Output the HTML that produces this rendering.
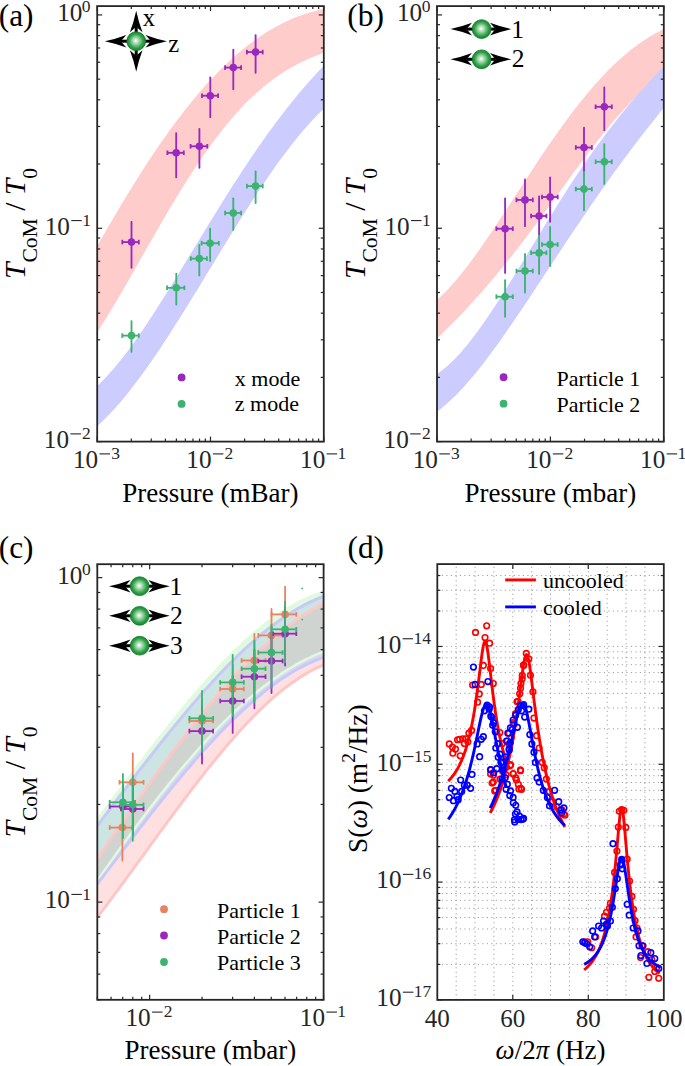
<!DOCTYPE html>
<html><head><meta charset="utf-8"><style>
html,body{margin:0;padding:0;background:#fff;width:685px;height:1066px;overflow:hidden}
svg{display:block}
</style></head><body>
<svg width="685" height="1066" viewBox="0 0 685 1066">
<defs>
<radialGradient id="sph" cx="0.5" cy="0.5" r="0.5" fx="0.47" fy="0.47">
<stop offset="0" stop-color="#ffffff"/>
<stop offset="0.35" stop-color="#9fd6a8"/>
<stop offset="0.75" stop-color="#2f9e48"/>
<stop offset="1" stop-color="#138a2e"/>
</radialGradient>
<clipPath id="clipC"><rect x="97.3" y="564.2" width="226.3" height="435.6"/></clipPath>
</defs>
<rect width="685" height="1066" fill="#fff"/>
<path d="M97.2,246.16 L100.07,241.11 L102.94,236.08 L105.81,231.08 L108.67,226.11 L111.54,221.18 L114.41,216.28 L117.28,211.41 L120.15,206.58 L123.02,201.79 L125.88,197.04 L128.75,192.33 L131.62,187.66 L134.49,183.04 L137.36,178.46 L140.23,173.93 L143.09,169.44 L145.96,165 L148.83,160.61 L151.7,156.28 L154.57,151.99 L157.44,147.76 L160.3,143.58 L163.17,139.45 L166.04,135.38 L168.91,131.37 L171.78,127.41 L174.65,123.51 L177.51,119.67 L180.38,115.89 L183.25,112.17 L186.12,108.51 L188.99,104.92 L191.86,101.38 L194.72,97.91 L197.59,94.5 L200.46,91.15 L203.33,87.87 L206.2,84.65 L209.07,81.5 L211.93,78.41 L214.8,75.39 L217.67,72.43 L220.54,69.54 L223.41,66.71 L226.28,63.96 L229.14,61.26 L232.01,58.64 L234.88,56.08 L237.75,53.59 L240.62,51.17 L243.49,48.81 L246.35,46.52 L249.22,44.3 L252.09,42.14 L254.96,40.05 L257.83,38.03 L260.7,36.07 L263.56,34.18 L266.43,32.35 L269.3,30.59 L272.17,28.9 L275.04,27.26 L277.91,25.7 L280.77,24.19 L283.64,22.75 L286.51,21.37 L289.38,20.06 L292.25,18.8 L295.12,17.61 L297.98,16.47 L300.85,15.4 L303.72,14.38 L306.59,13.42 L309.46,12.52 L312.33,11.68 L315.19,10.89 L318.06,10.15 L320.93,9.47 L323.8,8.84 L323.8,52.73 L320.93,53.79 L318.06,54.89 L315.19,56.03 L312.33,57.21 L309.46,58.44 L306.59,59.72 L303.72,61.05 L300.85,62.44 L297.98,63.89 L295.12,65.41 L292.25,66.99 L289.38,68.63 L286.51,70.35 L283.64,72.13 L280.77,73.99 L277.91,75.93 L275.04,77.94 L272.17,80.03 L269.3,82.21 L266.43,84.46 L263.56,86.8 L260.7,89.22 L257.83,91.73 L254.96,94.32 L252.09,97 L249.22,99.76 L246.35,102.62 L243.49,105.56 L240.62,108.58 L237.75,111.7 L234.88,114.9 L232.01,118.19 L229.14,121.56 L226.28,125.02 L223.41,128.57 L220.54,132.2 L217.67,135.91 L214.8,139.7 L211.93,143.58 L209.07,147.53 L206.2,151.56 L203.33,155.67 L200.46,159.85 L197.59,164.1 L194.72,168.42 L191.86,172.81 L188.99,177.26 L186.12,181.78 L183.25,186.35 L180.38,190.99 L177.51,195.67 L174.65,200.41 L171.78,205.19 L168.91,210.02 L166.04,214.89 L163.17,219.79 L160.3,224.73 L157.44,229.69 L154.57,234.68 L151.7,239.69 L148.83,244.72 L145.96,249.76 L143.09,254.81 L140.23,259.85 L137.36,264.9 L134.49,269.94 L131.62,274.96 L128.75,279.97 L125.88,284.95 L123.02,289.9 L120.15,294.82 L117.28,299.69 L114.41,304.52 L111.54,309.3 L108.67,314.01 L105.81,318.66 L102.94,323.24 L100.07,327.73 L97.2,332.14 Z" fill="#ffcccc" />
<path d="M97.2,385.91 L100.07,383.2 L102.94,380.37 L105.81,377.4 L108.67,374.31 L111.54,371.1 L114.41,367.77 L117.28,364.34 L120.15,360.81 L123.02,357.18 L125.88,353.45 L128.75,349.64 L131.62,345.74 L134.49,341.76 L137.36,337.71 L140.23,333.59 L143.09,329.4 L145.96,325.14 L148.83,320.84 L151.7,316.47 L154.57,312.06 L157.44,307.6 L160.3,303.11 L163.17,298.57 L166.04,294 L168.91,289.39 L171.78,284.77 L174.65,280.11 L177.51,275.44 L180.38,270.75 L183.25,266.05 L186.12,261.34 L188.99,256.62 L191.86,251.89 L194.72,247.17 L197.59,242.44 L200.46,237.72 L203.33,233.01 L206.2,228.31 L209.07,223.62 L211.93,218.94 L214.8,214.28 L217.67,209.64 L220.54,205.03 L223.41,200.43 L226.28,195.86 L229.14,191.32 L232.01,186.81 L234.88,182.33 L237.75,177.89 L240.62,173.48 L243.49,169.11 L246.35,164.77 L249.22,160.48 L252.09,156.22 L254.96,152.01 L257.83,147.84 L260.7,143.72 L263.56,139.64 L266.43,135.61 L269.3,131.62 L272.17,127.69 L275.04,123.8 L277.91,119.97 L280.77,116.18 L283.64,112.45 L286.51,108.77 L289.38,105.14 L292.25,101.56 L295.12,98.03 L297.98,94.56 L300.85,91.13 L303.72,87.77 L306.59,84.45 L309.46,81.18 L312.33,77.97 L315.19,74.81 L318.06,71.7 L320.93,68.64 L323.8,65.63 L323.8,108.77 L320.93,111.53 L318.06,114.37 L315.19,117.32 L312.33,120.35 L309.46,123.47 L306.59,126.68 L303.72,129.98 L300.85,133.36 L297.98,136.81 L295.12,140.35 L292.25,143.96 L289.38,147.64 L286.51,151.39 L283.64,155.22 L280.77,159.1 L277.91,163.05 L275.04,167.07 L272.17,171.14 L269.3,175.26 L266.43,179.44 L263.56,183.67 L260.7,187.95 L257.83,192.27 L254.96,196.64 L252.09,201.05 L249.22,205.5 L246.35,209.98 L243.49,214.5 L240.62,219.04 L237.75,223.62 L234.88,228.22 L232.01,232.84 L229.14,237.49 L226.28,242.15 L223.41,246.83 L220.54,251.52 L217.67,256.22 L214.8,260.93 L211.93,265.64 L209.07,270.35 L206.2,275.06 L203.33,279.77 L200.46,284.48 L197.59,289.17 L194.72,293.86 L191.86,298.52 L188.99,303.18 L186.12,307.81 L183.25,312.42 L180.38,317 L177.51,321.56 L174.65,326.08 L171.78,330.58 L168.91,335.03 L166.04,339.45 L163.17,343.82 L160.3,348.15 L157.44,352.43 L154.57,356.66 L151.7,360.84 L148.83,364.96 L145.96,369.02 L143.09,373.02 L140.23,376.95 L137.36,380.82 L134.49,384.61 L131.62,388.33 L128.75,391.98 L125.88,395.54 L123.02,399.02 L120.15,402.42 L117.28,405.72 L114.41,408.94 L111.54,412.06 L108.67,415.08 L105.81,418 L102.94,420.82 L100.07,423.53 L97.2,426.13 Z" fill="#ccccff" />
<g stroke="#9a28bf" stroke-width="1.85" fill="#9a28bf">
<line x1="131.5" y1="221.8" x2="131.5" y2="267.8" stroke-linecap="round"/>
<line x1="122.3" y1="242.1" x2="138.8" y2="242.1"/>
<line x1="122.3" y1="239.8" x2="122.3" y2="244.4"/>
<line x1="138.8" y1="239.8" x2="138.8" y2="244.4"/>
<circle cx="131.5" cy="242.1" r="3.8" stroke="none"/>
</g>
<g stroke="#9a28bf" stroke-width="1.85" fill="#9a28bf">
<line x1="176.2" y1="133.1" x2="176.2" y2="177.4" stroke-linecap="round"/>
<line x1="167.4" y1="152.8" x2="183.8" y2="152.8"/>
<line x1="167.4" y1="150.5" x2="167.4" y2="155.1"/>
<line x1="183.8" y1="150.5" x2="183.8" y2="155.1"/>
<circle cx="176.2" cy="152.8" r="3.8" stroke="none"/>
</g>
<g stroke="#9a28bf" stroke-width="1.85" fill="#9a28bf">
<line x1="199.4" y1="128.8" x2="199.4" y2="167.7" stroke-linecap="round"/>
<line x1="190.6" y1="146.3" x2="207.3" y2="146.3"/>
<line x1="190.6" y1="144" x2="190.6" y2="148.6"/>
<line x1="207.3" y1="144" x2="207.3" y2="148.6"/>
<circle cx="199.4" cy="146.3" r="3.8" stroke="none"/>
</g>
<g stroke="#9a28bf" stroke-width="1.85" fill="#9a28bf">
<line x1="210.3" y1="77.4" x2="210.3" y2="117.3" stroke-linecap="round"/>
<line x1="202" y1="95.7" x2="218.1" y2="95.7"/>
<line x1="202" y1="93.4" x2="202" y2="98"/>
<line x1="218.1" y1="93.4" x2="218.1" y2="98"/>
<circle cx="210.3" cy="95.7" r="3.8" stroke="none"/>
</g>
<g stroke="#9a28bf" stroke-width="1.85" fill="#9a28bf">
<line x1="233.3" y1="49.7" x2="233.3" y2="89.2" stroke-linecap="round"/>
<line x1="225.1" y1="67.6" x2="241.1" y2="67.6"/>
<line x1="225.1" y1="65.3" x2="225.1" y2="69.9"/>
<line x1="241.1" y1="65.3" x2="241.1" y2="69.9"/>
<circle cx="233.3" cy="67.6" r="3.8" stroke="none"/>
</g>
<g stroke="#9a28bf" stroke-width="1.85" fill="#9a28bf">
<line x1="255.6" y1="35.2" x2="255.6" y2="72.7" stroke-linecap="round"/>
<line x1="246.9" y1="52.1" x2="262.7" y2="52.1"/>
<line x1="246.9" y1="49.8" x2="246.9" y2="54.4"/>
<line x1="262.7" y1="49.8" x2="262.7" y2="54.4"/>
<circle cx="255.6" cy="52.1" r="3.8" stroke="none"/>
</g>
<g stroke="#3cb371" stroke-width="1.85" fill="#3cb371">
<line x1="131.5" y1="321.1" x2="131.5" y2="351.7" stroke-linecap="round"/>
<line x1="122.3" y1="335.6" x2="138.8" y2="335.6"/>
<line x1="122.3" y1="333.3" x2="122.3" y2="337.9"/>
<line x1="138.8" y1="333.3" x2="138.8" y2="337.9"/>
<circle cx="131.5" cy="335.6" r="3.8" stroke="none"/>
</g>
<g stroke="#3cb371" stroke-width="1.85" fill="#3cb371">
<line x1="176.3" y1="273.6" x2="176.3" y2="304.6" stroke-linecap="round"/>
<line x1="167.1" y1="287.8" x2="184.4" y2="287.8"/>
<line x1="167.1" y1="285.5" x2="167.1" y2="290.1"/>
<line x1="184.4" y1="285.5" x2="184.4" y2="290.1"/>
<circle cx="176.3" cy="287.8" r="3.8" stroke="none"/>
</g>
<g stroke="#3cb371" stroke-width="1.85" fill="#3cb371">
<line x1="199.3" y1="244.8" x2="199.3" y2="275.4" stroke-linecap="round"/>
<line x1="190.8" y1="258.6" x2="206.9" y2="258.6"/>
<line x1="190.8" y1="256.3" x2="190.8" y2="260.9"/>
<line x1="206.9" y1="256.3" x2="206.9" y2="260.9"/>
<circle cx="199.3" cy="258.6" r="3.8" stroke="none"/>
</g>
<g stroke="#3cb371" stroke-width="1.85" fill="#3cb371">
<line x1="210.1" y1="228.7" x2="210.1" y2="260.9" stroke-linecap="round"/>
<line x1="201.6" y1="243.2" x2="218.8" y2="243.2"/>
<line x1="201.6" y1="240.9" x2="201.6" y2="245.5"/>
<line x1="218.8" y1="240.9" x2="218.8" y2="245.5"/>
<circle cx="210.1" cy="243.2" r="3.8" stroke="none"/>
</g>
<g stroke="#3cb371" stroke-width="1.85" fill="#3cb371">
<line x1="233.3" y1="198.3" x2="233.3" y2="229.9" stroke-linecap="round"/>
<line x1="225.1" y1="213" x2="241.1" y2="213"/>
<line x1="225.1" y1="210.7" x2="225.1" y2="215.3"/>
<line x1="241.1" y1="210.7" x2="241.1" y2="215.3"/>
<circle cx="233.3" cy="213" r="3.8" stroke="none"/>
</g>
<g stroke="#3cb371" stroke-width="1.85" fill="#3cb371">
<line x1="255.6" y1="171.3" x2="255.6" y2="203" stroke-linecap="round"/>
<line x1="246.9" y1="186.1" x2="262.7" y2="186.1"/>
<line x1="246.9" y1="183.8" x2="246.9" y2="188.4"/>
<line x1="262.7" y1="183.8" x2="262.7" y2="188.4"/>
<circle cx="255.6" cy="186.1" r="3.8" stroke="none"/>
</g>
<circle cx="181.6" cy="377.4" r="3.9" fill="#9a28bf"/>
<circle cx="181.6" cy="403.9" r="3.9" fill="#3cb371"/>
<text x="234.8" y="386" style="font-family:'Liberation Serif',serif;font-size:22px" fill="#000">x mode</text>
<text x="234.8" y="411.3" style="font-family:'Liberation Serif',serif;font-size:22px" fill="#000">z mode</text>
<line x1="120.8" y1="41.2" x2="151" y2="41.2" stroke="#000" stroke-width="3"/>
<line x1="136.2" y1="26.8" x2="136.2" y2="55.8" stroke="#000" stroke-width="3"/>
<path d="M104.8,41.2 Q115.55,38.95 126.3,34.9 L120.8,41.2 L126.3,47.5 Q115.55,43.45 104.8,41.2 Z" fill="#000"/>
<path d="M167,41.2 Q156.25,43.45 145.5,47.5 L151,41.2 L145.5,34.9 Q156.25,38.95 167,41.2 Z" fill="#000"/>
<path d="M136.2,10.8 Q138.45,21.55 142.5,32.3 L136.2,26.8 L129.9,32.3 Q133.95,21.55 136.2,10.8 Z" fill="#000"/>
<path d="M136.2,71.8 Q133.95,61.05 129.9,50.3 L136.2,55.8 L142.5,50.3 Q138.45,61.05 136.2,71.8 Z" fill="#000"/>
<circle cx="136.2" cy="41.2" r="9.4" fill="url(#sph)" stroke="#0d7a26" stroke-width="0.8"/>
<text x="142.7" y="25.9" style="font-family:'Liberation Serif',serif;font-size:24.6px" fill="#000">x</text>
<text x="168.2" y="51.7" style="font-family:'Liberation Serif',serif;font-size:24.6px" fill="#000">z</text>
<g stroke="#262626" stroke-width="1.2">
<line x1="97.2" y1="441.6" x2="97.2" y2="436.6"/>
<line x1="97.2" y1="6.1" x2="97.2" y2="11.1"/>
<line x1="210.5" y1="441.6" x2="210.5" y2="436.6"/>
<line x1="210.5" y1="6.1" x2="210.5" y2="11.1"/>
<line x1="323.8" y1="441.6" x2="323.8" y2="436.6"/>
<line x1="323.8" y1="6.1" x2="323.8" y2="11.1"/>
<line x1="131.31" y1="441.6" x2="131.31" y2="438.6"/>
<line x1="131.31" y1="6.1" x2="131.31" y2="9.1"/>
<line x1="151.26" y1="441.6" x2="151.26" y2="438.6"/>
<line x1="151.26" y1="6.1" x2="151.26" y2="9.1"/>
<line x1="165.41" y1="441.6" x2="165.41" y2="438.6"/>
<line x1="165.41" y1="6.1" x2="165.41" y2="9.1"/>
<line x1="176.39" y1="441.6" x2="176.39" y2="438.6"/>
<line x1="176.39" y1="6.1" x2="176.39" y2="9.1"/>
<line x1="185.36" y1="441.6" x2="185.36" y2="438.6"/>
<line x1="185.36" y1="6.1" x2="185.36" y2="9.1"/>
<line x1="192.95" y1="441.6" x2="192.95" y2="438.6"/>
<line x1="192.95" y1="6.1" x2="192.95" y2="9.1"/>
<line x1="199.52" y1="441.6" x2="199.52" y2="438.6"/>
<line x1="199.52" y1="6.1" x2="199.52" y2="9.1"/>
<line x1="205.32" y1="441.6" x2="205.32" y2="438.6"/>
<line x1="205.32" y1="6.1" x2="205.32" y2="9.1"/>
<line x1="244.61" y1="441.6" x2="244.61" y2="438.6"/>
<line x1="244.61" y1="6.1" x2="244.61" y2="9.1"/>
<line x1="264.56" y1="441.6" x2="264.56" y2="438.6"/>
<line x1="264.56" y1="6.1" x2="264.56" y2="9.1"/>
<line x1="278.71" y1="441.6" x2="278.71" y2="438.6"/>
<line x1="278.71" y1="6.1" x2="278.71" y2="9.1"/>
<line x1="289.69" y1="441.6" x2="289.69" y2="438.6"/>
<line x1="289.69" y1="6.1" x2="289.69" y2="9.1"/>
<line x1="298.66" y1="441.6" x2="298.66" y2="438.6"/>
<line x1="298.66" y1="6.1" x2="298.66" y2="9.1"/>
<line x1="306.25" y1="441.6" x2="306.25" y2="438.6"/>
<line x1="306.25" y1="6.1" x2="306.25" y2="9.1"/>
<line x1="312.82" y1="441.6" x2="312.82" y2="438.6"/>
<line x1="312.82" y1="6.1" x2="312.82" y2="9.1"/>
<line x1="318.62" y1="441.6" x2="318.62" y2="438.6"/>
<line x1="318.62" y1="6.1" x2="318.62" y2="9.1"/>
<line x1="97.2" y1="441.6" x2="102.2" y2="441.6"/>
<line x1="323.8" y1="441.6" x2="318.8" y2="441.6"/>
<line x1="97.2" y1="228.27" x2="102.2" y2="228.27"/>
<line x1="323.8" y1="228.27" x2="318.8" y2="228.27"/>
<line x1="97.2" y1="14.93" x2="102.2" y2="14.93"/>
<line x1="323.8" y1="14.93" x2="318.8" y2="14.93"/>
<line x1="97.2" y1="377.38" x2="100.2" y2="377.38"/>
<line x1="323.8" y1="377.38" x2="320.8" y2="377.38"/>
<line x1="97.2" y1="339.81" x2="100.2" y2="339.81"/>
<line x1="323.8" y1="339.81" x2="320.8" y2="339.81"/>
<line x1="97.2" y1="313.16" x2="100.2" y2="313.16"/>
<line x1="323.8" y1="313.16" x2="320.8" y2="313.16"/>
<line x1="97.2" y1="292.49" x2="100.2" y2="292.49"/>
<line x1="323.8" y1="292.49" x2="320.8" y2="292.49"/>
<line x1="97.2" y1="275.59" x2="100.2" y2="275.59"/>
<line x1="323.8" y1="275.59" x2="320.8" y2="275.59"/>
<line x1="97.2" y1="261.31" x2="100.2" y2="261.31"/>
<line x1="323.8" y1="261.31" x2="320.8" y2="261.31"/>
<line x1="97.2" y1="248.94" x2="100.2" y2="248.94"/>
<line x1="323.8" y1="248.94" x2="320.8" y2="248.94"/>
<line x1="97.2" y1="238.03" x2="100.2" y2="238.03"/>
<line x1="323.8" y1="238.03" x2="320.8" y2="238.03"/>
<line x1="97.2" y1="164.05" x2="100.2" y2="164.05"/>
<line x1="323.8" y1="164.05" x2="320.8" y2="164.05"/>
<line x1="97.2" y1="126.48" x2="100.2" y2="126.48"/>
<line x1="323.8" y1="126.48" x2="320.8" y2="126.48"/>
<line x1="97.2" y1="99.82" x2="100.2" y2="99.82"/>
<line x1="323.8" y1="99.82" x2="320.8" y2="99.82"/>
<line x1="97.2" y1="79.15" x2="100.2" y2="79.15"/>
<line x1="323.8" y1="79.15" x2="320.8" y2="79.15"/>
<line x1="97.2" y1="62.26" x2="100.2" y2="62.26"/>
<line x1="323.8" y1="62.26" x2="320.8" y2="62.26"/>
<line x1="97.2" y1="47.98" x2="100.2" y2="47.98"/>
<line x1="323.8" y1="47.98" x2="320.8" y2="47.98"/>
<line x1="97.2" y1="35.6" x2="100.2" y2="35.6"/>
<line x1="323.8" y1="35.6" x2="320.8" y2="35.6"/>
<line x1="97.2" y1="24.69" x2="100.2" y2="24.69"/>
<line x1="323.8" y1="24.69" x2="320.8" y2="24.69"/>
</g>
<rect x="97.2" y="6.1" width="226.6" height="435.5" fill="none" stroke="#262626" stroke-width="1.8"/>
<text x="72.93" y="467.9" style="font-family:'Liberation Serif',serif;font-size:25.2px" fill="#262626">10</text>
<rect x="99.52" y="453.35" width="10.5" height="1.1" fill="#262626"/>
<text x="111.15" y="459" style="font-family:'Liberation Serif',serif;font-size:17.5px" fill="#262626">3</text>
<text x="186.32" y="467.9" style="font-family:'Liberation Serif',serif;font-size:25.2px" fill="#262626">10</text>
<rect x="212.91" y="453.35" width="10.5" height="1.1" fill="#262626"/>
<text x="224.62" y="459" style="font-family:'Liberation Serif',serif;font-size:17.5px" fill="#262626">2</text>
<text x="300.06" y="467.9" style="font-family:'Liberation Serif',serif;font-size:25.2px" fill="#262626">10</text>
<rect x="326.65" y="453.35" width="10.5" height="1.1" fill="#262626"/>
<text x="337.57" y="459" style="font-family:'Liberation Serif',serif;font-size:17.5px" fill="#262626">1</text>
<text x="43.81" y="447.9" style="font-family:'Liberation Serif',serif;font-size:25.2px" fill="#262626">10</text>
<rect x="70.4" y="433.35" width="10.5" height="1.1" fill="#262626"/>
<text x="82.11" y="439" style="font-family:'Liberation Serif',serif;font-size:17.5px" fill="#262626">2</text>
<text x="44.68" y="234.57" style="font-family:'Liberation Serif',serif;font-size:25.2px" fill="#262626">10</text>
<rect x="71.28" y="220.02" width="10.5" height="1.1" fill="#262626"/>
<text x="82.2" y="225.67" style="font-family:'Liberation Serif',serif;font-size:17.5px" fill="#262626">1</text>
<text x="57.16" y="21.23" style="font-family:'Liberation Serif',serif;font-size:25.2px" fill="#262626">10</text>
<text x="81.85" y="12.33" style="font-family:'Liberation Serif',serif;font-size:17.5px" fill="#262626">0</text>
<text x="210.4" y="502" text-anchor="middle" style="font-family:'Liberation Serif',serif;font-size:27px" fill="#000">Pressure (mBar)</text>
<text x="-1.25" y="26" style="font-family:'Liberation Serif',serif;font-size:31.3px" fill="#000">(a)</text>
<text transform="translate(25,223.5) rotate(-90)" text-anchor="middle" style="font-family:'Liberation Serif',serif;font-size:29.6px" fill="#000"><tspan font-style="italic">T</tspan><tspan dy="12.2" style="font-size:21.6px">CoM</tspan><tspan dy="-12.2"> / </tspan><tspan font-style="italic">T</tspan><tspan dy="12.2" style="font-size:21.6px">0</tspan></text>
<path d="M437,299.93 L439.87,297.33 L442.74,294.58 L445.61,291.69 L448.48,288.68 L451.35,285.54 L454.23,282.28 L457.1,278.91 L459.97,275.44 L462.84,271.87 L465.71,268.2 L468.58,264.45 L471.45,260.62 L474.32,256.71 L477.19,252.73 L480.06,248.69 L482.93,244.58 L485.81,240.43 L488.68,236.22 L491.55,231.98 L494.42,227.69 L497.29,223.37 L500.16,219.02 L503.03,214.65 L505.9,210.26 L508.77,205.85 L511.64,201.43 L514.51,197.01 L517.38,192.58 L520.26,188.16 L523.13,183.74 L526,179.33 L528.87,174.93 L531.74,170.56 L534.61,166.2 L537.48,161.86 L540.35,157.56 L543.22,153.28 L546.09,149.04 L548.96,144.83 L551.84,140.66 L554.71,136.54 L557.58,132.46 L560.45,128.43 L563.32,124.45 L566.19,120.52 L569.06,116.65 L571.93,112.84 L574.8,109.08 L577.67,105.39 L580.54,101.76 L583.42,98.19 L586.29,94.7 L589.16,91.27 L592.03,87.91 L594.9,84.62 L597.77,81.41 L600.64,78.26 L603.51,75.2 L606.38,72.21 L609.25,69.3 L612.12,66.46 L614.99,63.71 L617.87,61.03 L620.74,58.43 L623.61,55.91 L626.48,53.48 L629.35,51.12 L632.22,48.84 L635.09,46.65 L637.96,44.53 L640.83,42.49 L643.7,40.54 L646.57,38.66 L649.45,36.86 L652.32,35.14 L655.19,33.5 L658.06,31.93 L660.93,30.44 L663.8,29.03 L663.8,76.45 L660.93,77.98 L658.06,79.67 L655.19,81.5 L652.32,83.47 L649.45,85.58 L646.57,87.82 L643.7,90.18 L640.83,92.66 L637.96,95.25 L635.09,97.95 L632.22,100.75 L629.35,103.65 L626.48,106.64 L623.61,109.72 L620.74,112.88 L617.87,116.12 L614.99,119.44 L612.12,122.82 L609.25,126.26 L606.38,129.77 L603.51,133.33 L600.64,136.94 L597.77,140.6 L594.9,144.3 L592.03,148.04 L589.16,151.82 L586.29,155.63 L583.42,159.47 L580.54,163.33 L577.67,167.21 L574.8,171.11 L571.93,175.03 L569.06,178.95 L566.19,182.89 L563.32,186.83 L560.45,190.78 L557.58,194.72 L554.71,198.67 L551.84,202.6 L548.96,206.53 L546.09,210.45 L543.22,214.36 L540.35,218.25 L537.48,222.13 L534.61,225.99 L531.74,229.83 L528.87,233.65 L526,237.44 L523.13,241.21 L520.26,244.95 L517.38,248.66 L514.51,252.34 L511.64,256 L508.77,259.62 L505.9,263.2 L503.03,266.76 L500.16,270.28 L497.29,273.76 L494.42,277.21 L491.55,280.62 L488.68,284 L485.81,287.33 L482.93,290.63 L480.06,293.9 L477.19,297.12 L474.32,300.31 L471.45,303.46 L468.58,306.57 L465.71,309.64 L462.84,312.68 L459.97,315.68 L457.1,318.65 L454.23,321.58 L451.35,324.48 L448.48,327.34 L445.61,330.17 L442.74,332.97 L439.87,335.74 L437,338.48 Z" fill="#ffcccc" />
<path d="M437,373.86 L439.87,371.93 L442.74,369.8 L445.61,367.49 L448.48,365 L451.35,362.33 L454.23,359.5 L457.1,356.52 L459.97,353.39 L462.84,350.12 L465.71,346.72 L468.58,343.19 L471.45,339.55 L474.32,335.79 L477.19,331.93 L480.06,327.97 L482.93,323.92 L485.81,319.79 L488.68,315.58 L491.55,311.3 L494.42,306.95 L497.29,302.54 L500.16,298.08 L503.03,293.57 L505.9,289.02 L508.77,284.42 L511.64,279.8 L514.51,275.14 L517.38,270.47 L520.26,265.77 L523.13,261.06 L526,256.34 L528.87,251.61 L531.74,246.89 L534.61,242.16 L537.48,237.44 L540.35,232.73 L543.22,228.04 L546.09,223.36 L548.96,218.7 L551.84,214.06 L554.71,209.45 L557.58,204.86 L560.45,200.31 L563.32,195.79 L566.19,191.3 L569.06,186.86 L571.93,182.45 L574.8,178.08 L577.67,173.76 L580.54,169.48 L583.42,165.25 L586.29,161.06 L589.16,156.93 L592.03,152.84 L594.9,148.8 L597.77,144.81 L600.64,140.88 L603.51,136.99 L606.38,133.16 L609.25,129.38 L612.12,125.65 L614.99,121.97 L617.87,118.34 L620.74,114.76 L623.61,111.23 L626.48,107.75 L629.35,104.32 L632.22,100.94 L635.09,97.6 L637.96,94.3 L640.83,91.05 L643.7,87.83 L646.57,84.66 L649.45,81.52 L652.32,78.42 L655.19,75.35 L658.06,72.3 L660.93,69.29 L663.8,66.3 L663.8,107.79 L660.93,111.35 L658.06,114.92 L655.19,118.51 L652.32,122.13 L649.45,125.76 L646.57,129.42 L643.7,133.1 L640.83,136.81 L637.96,140.54 L635.09,144.3 L632.22,148.08 L629.35,151.89 L626.48,155.73 L623.61,159.59 L620.74,163.48 L617.87,167.4 L614.99,171.35 L612.12,175.32 L609.25,179.31 L606.38,183.34 L603.51,187.39 L600.64,191.46 L597.77,195.56 L594.9,199.69 L592.03,203.83 L589.16,208.01 L586.29,212.2 L583.42,216.41 L580.54,220.65 L577.67,224.9 L574.8,229.17 L571.93,233.46 L569.06,237.76 L566.19,242.07 L563.32,246.4 L560.45,250.74 L557.58,255.09 L554.71,259.44 L551.84,263.8 L548.96,268.17 L546.09,272.53 L543.22,276.9 L540.35,281.26 L537.48,285.61 L534.61,289.96 L531.74,294.3 L528.87,298.63 L526,302.94 L523.13,307.24 L520.26,311.51 L517.38,315.77 L514.51,319.99 L511.64,324.19 L508.77,328.36 L505.9,332.49 L503.03,336.58 L500.16,340.64 L497.29,344.64 L494.42,348.6 L491.55,352.51 L488.68,356.36 L485.81,360.16 L482.93,363.89 L480.06,367.55 L477.19,371.14 L474.32,374.66 L471.45,378.1 L468.58,381.46 L465.71,384.73 L462.84,387.91 L459.97,390.99 L457.1,393.98 L454.23,396.85 L451.35,399.62 L448.48,402.27 L445.61,404.81 L442.74,407.22 L439.87,409.5 L437,411.65 Z" fill="#ccccff" />
<g stroke="#9a28bf" stroke-width="1.85" fill="#9a28bf">
<line x1="505.1" y1="198.5" x2="505.1" y2="272.9" stroke-linecap="round"/>
<line x1="496.4" y1="228.7" x2="512.8" y2="228.7"/>
<line x1="496.4" y1="226.4" x2="496.4" y2="231"/>
<line x1="512.8" y1="226.4" x2="512.8" y2="231"/>
<circle cx="505.1" cy="228.7" r="3.8" stroke="none"/>
</g>
<g stroke="#9a28bf" stroke-width="1.85" fill="#9a28bf">
<line x1="525" y1="179.5" x2="525" y2="226.2" stroke-linecap="round"/>
<line x1="516.5" y1="199.9" x2="532.8" y2="199.9"/>
<line x1="516.5" y1="197.6" x2="516.5" y2="202.2"/>
<line x1="532.8" y1="197.6" x2="532.8" y2="202.2"/>
<circle cx="525" cy="199.9" r="3.8" stroke="none"/>
</g>
<g stroke="#9a28bf" stroke-width="1.85" fill="#9a28bf">
<line x1="539.1" y1="196.3" x2="539.1" y2="235" stroke-linecap="round"/>
<line x1="531.1" y1="216" x2="546.4" y2="216"/>
<line x1="531.1" y1="213.7" x2="531.1" y2="218.3"/>
<line x1="546.4" y1="213.7" x2="546.4" y2="218.3"/>
<circle cx="539.1" cy="216" r="3.8" stroke="none"/>
</g>
<g stroke="#9a28bf" stroke-width="1.85" fill="#9a28bf">
<line x1="550.1" y1="177.3" x2="550.1" y2="221.8" stroke-linecap="round"/>
<line x1="542" y1="197" x2="557.7" y2="197"/>
<line x1="542" y1="194.7" x2="542" y2="199.3"/>
<line x1="557.7" y1="194.7" x2="557.7" y2="199.3"/>
<circle cx="550.1" cy="197" r="3.8" stroke="none"/>
</g>
<g stroke="#9a28bf" stroke-width="1.85" fill="#9a28bf">
<line x1="584" y1="127.6" x2="584" y2="171.1" stroke-linecap="round"/>
<line x1="575.8" y1="147.5" x2="591.8" y2="147.5"/>
<line x1="575.8" y1="145.2" x2="575.8" y2="149.8"/>
<line x1="591.8" y1="145.2" x2="591.8" y2="149.8"/>
<circle cx="584" cy="147.5" r="3.8" stroke="none"/>
</g>
<g stroke="#9a28bf" stroke-width="1.85" fill="#9a28bf">
<line x1="604.3" y1="87.5" x2="604.3" y2="130.3" stroke-linecap="round"/>
<line x1="595.6" y1="106.8" x2="611.8" y2="106.8"/>
<line x1="595.6" y1="104.5" x2="595.6" y2="109.1"/>
<line x1="611.8" y1="104.5" x2="611.8" y2="109.1"/>
<circle cx="604.3" cy="106.8" r="3.8" stroke="none"/>
</g>
<g stroke="#3cb371" stroke-width="1.85" fill="#3cb371">
<line x1="505.1" y1="280.2" x2="505.1" y2="316.7" stroke-linecap="round"/>
<line x1="496.4" y1="296.7" x2="512.8" y2="296.7"/>
<line x1="496.4" y1="294.4" x2="496.4" y2="299"/>
<line x1="512.8" y1="294.4" x2="512.8" y2="299"/>
<circle cx="505.1" cy="296.7" r="3.8" stroke="none"/>
</g>
<g stroke="#3cb371" stroke-width="1.85" fill="#3cb371">
<line x1="525" y1="253.9" x2="525" y2="292.6" stroke-linecap="round"/>
<line x1="516.5" y1="271" x2="532.8" y2="271"/>
<line x1="516.5" y1="268.7" x2="516.5" y2="273.3"/>
<line x1="532.8" y1="268.7" x2="532.8" y2="273.3"/>
<circle cx="525" cy="271" r="3.8" stroke="none"/>
</g>
<g stroke="#3cb371" stroke-width="1.85" fill="#3cb371">
<line x1="539.1" y1="235.7" x2="539.1" y2="273.9" stroke-linecap="round"/>
<line x1="531.1" y1="252.8" x2="546.4" y2="252.8"/>
<line x1="531.1" y1="250.5" x2="531.1" y2="255.1"/>
<line x1="546.4" y1="250.5" x2="546.4" y2="255.1"/>
<circle cx="539.1" cy="252.8" r="3.8" stroke="none"/>
</g>
<g stroke="#3cb371" stroke-width="1.85" fill="#3cb371">
<line x1="550.1" y1="226.9" x2="550.1" y2="266.1" stroke-linecap="round"/>
<line x1="542" y1="244.5" x2="557.7" y2="244.5"/>
<line x1="542" y1="242.2" x2="542" y2="246.8"/>
<line x1="557.7" y1="242.2" x2="557.7" y2="246.8"/>
<circle cx="550.1" cy="244.5" r="3.8" stroke="none"/>
</g>
<g stroke="#3cb371" stroke-width="1.85" fill="#3cb371">
<line x1="584" y1="171.9" x2="584" y2="210.2" stroke-linecap="round"/>
<line x1="575.8" y1="189.1" x2="591.8" y2="189.1"/>
<line x1="575.8" y1="186.8" x2="575.8" y2="191.4"/>
<line x1="591.8" y1="186.8" x2="591.8" y2="191.4"/>
<circle cx="584" cy="189.1" r="3.8" stroke="none"/>
</g>
<g stroke="#3cb371" stroke-width="1.85" fill="#3cb371">
<line x1="604.3" y1="144.1" x2="604.3" y2="183.9" stroke-linecap="round"/>
<line x1="595.6" y1="161.8" x2="611.8" y2="161.8"/>
<line x1="595.6" y1="159.5" x2="595.6" y2="164.1"/>
<line x1="611.8" y1="159.5" x2="611.8" y2="164.1"/>
<circle cx="604.3" cy="161.8" r="3.8" stroke="none"/>
</g>
<circle cx="503.6" cy="377.2" r="3.9" fill="#9a28bf"/>
<circle cx="503.6" cy="403.7" r="3.9" fill="#3cb371"/>
<text x="556.6" y="385.6" style="font-family:'Liberation Serif',serif;font-size:22px" fill="#000">Particle 1</text>
<text x="556.6" y="411.8" style="font-family:'Liberation Serif',serif;font-size:22px" fill="#000">Particle 2</text>
<line x1="466.5" y1="29.1" x2="495.5" y2="29.1" stroke="#000" stroke-width="3"/>
<path d="M450.5,29.1 Q461.25,26.85 472,22.8 L466.5,29.1 L472,35.4 Q461.25,31.35 450.5,29.1 Z" fill="#000"/>
<path d="M511.5,29.1 Q500.75,31.35 490,35.4 L495.5,29.1 L490,22.8 Q500.75,26.85 511.5,29.1 Z" fill="#000"/>
<circle cx="481.6" cy="29.1" r="9.4" fill="url(#sph)" stroke="#0d7a26" stroke-width="0.8"/>
<line x1="466.5" y1="59.3" x2="495.5" y2="59.3" stroke="#000" stroke-width="3"/>
<path d="M450.5,59.3 Q461.25,57.05 472,53 L466.5,59.3 L472,65.6 Q461.25,61.55 450.5,59.3 Z" fill="#000"/>
<path d="M511.5,59.3 Q500.75,61.55 490,65.6 L495.5,59.3 L490,53 Q500.75,57.05 511.5,59.3 Z" fill="#000"/>
<circle cx="481.6" cy="59.3" r="9.4" fill="url(#sph)" stroke="#0d7a26" stroke-width="0.8"/>
<text x="511.2" y="37.7" style="font-family:'Liberation Serif',serif;font-size:25.5px" fill="#000">1</text>
<text x="511.8" y="66.9" style="font-family:'Liberation Serif',serif;font-size:25.5px" fill="#000">2</text>
<g stroke="#262626" stroke-width="1.2">
<line x1="437" y1="441.6" x2="437" y2="436.6"/>
<line x1="437" y1="6.1" x2="437" y2="11.1"/>
<line x1="550.4" y1="441.6" x2="550.4" y2="436.6"/>
<line x1="550.4" y1="6.1" x2="550.4" y2="11.1"/>
<line x1="663.8" y1="441.6" x2="663.8" y2="436.6"/>
<line x1="663.8" y1="6.1" x2="663.8" y2="11.1"/>
<line x1="471.14" y1="441.6" x2="471.14" y2="438.6"/>
<line x1="471.14" y1="6.1" x2="471.14" y2="9.1"/>
<line x1="491.11" y1="441.6" x2="491.11" y2="438.6"/>
<line x1="491.11" y1="6.1" x2="491.11" y2="9.1"/>
<line x1="505.27" y1="441.6" x2="505.27" y2="438.6"/>
<line x1="505.27" y1="6.1" x2="505.27" y2="9.1"/>
<line x1="516.26" y1="441.6" x2="516.26" y2="438.6"/>
<line x1="516.26" y1="6.1" x2="516.26" y2="9.1"/>
<line x1="525.24" y1="441.6" x2="525.24" y2="438.6"/>
<line x1="525.24" y1="6.1" x2="525.24" y2="9.1"/>
<line x1="532.83" y1="441.6" x2="532.83" y2="438.6"/>
<line x1="532.83" y1="6.1" x2="532.83" y2="9.1"/>
<line x1="539.41" y1="441.6" x2="539.41" y2="438.6"/>
<line x1="539.41" y1="6.1" x2="539.41" y2="9.1"/>
<line x1="545.21" y1="441.6" x2="545.21" y2="438.6"/>
<line x1="545.21" y1="6.1" x2="545.21" y2="9.1"/>
<line x1="584.54" y1="441.6" x2="584.54" y2="438.6"/>
<line x1="584.54" y1="6.1" x2="584.54" y2="9.1"/>
<line x1="604.51" y1="441.6" x2="604.51" y2="438.6"/>
<line x1="604.51" y1="6.1" x2="604.51" y2="9.1"/>
<line x1="618.67" y1="441.6" x2="618.67" y2="438.6"/>
<line x1="618.67" y1="6.1" x2="618.67" y2="9.1"/>
<line x1="629.66" y1="441.6" x2="629.66" y2="438.6"/>
<line x1="629.66" y1="6.1" x2="629.66" y2="9.1"/>
<line x1="638.64" y1="441.6" x2="638.64" y2="438.6"/>
<line x1="638.64" y1="6.1" x2="638.64" y2="9.1"/>
<line x1="646.23" y1="441.6" x2="646.23" y2="438.6"/>
<line x1="646.23" y1="6.1" x2="646.23" y2="9.1"/>
<line x1="652.81" y1="441.6" x2="652.81" y2="438.6"/>
<line x1="652.81" y1="6.1" x2="652.81" y2="9.1"/>
<line x1="658.61" y1="441.6" x2="658.61" y2="438.6"/>
<line x1="658.61" y1="6.1" x2="658.61" y2="9.1"/>
<line x1="437" y1="441.6" x2="442" y2="441.6"/>
<line x1="663.8" y1="441.6" x2="658.8" y2="441.6"/>
<line x1="437" y1="228.27" x2="442" y2="228.27"/>
<line x1="663.8" y1="228.27" x2="658.8" y2="228.27"/>
<line x1="437" y1="14.93" x2="442" y2="14.93"/>
<line x1="663.8" y1="14.93" x2="658.8" y2="14.93"/>
<line x1="437" y1="377.38" x2="440" y2="377.38"/>
<line x1="663.8" y1="377.38" x2="660.8" y2="377.38"/>
<line x1="437" y1="339.81" x2="440" y2="339.81"/>
<line x1="663.8" y1="339.81" x2="660.8" y2="339.81"/>
<line x1="437" y1="313.16" x2="440" y2="313.16"/>
<line x1="663.8" y1="313.16" x2="660.8" y2="313.16"/>
<line x1="437" y1="292.49" x2="440" y2="292.49"/>
<line x1="663.8" y1="292.49" x2="660.8" y2="292.49"/>
<line x1="437" y1="275.59" x2="440" y2="275.59"/>
<line x1="663.8" y1="275.59" x2="660.8" y2="275.59"/>
<line x1="437" y1="261.31" x2="440" y2="261.31"/>
<line x1="663.8" y1="261.31" x2="660.8" y2="261.31"/>
<line x1="437" y1="248.94" x2="440" y2="248.94"/>
<line x1="663.8" y1="248.94" x2="660.8" y2="248.94"/>
<line x1="437" y1="238.03" x2="440" y2="238.03"/>
<line x1="663.8" y1="238.03" x2="660.8" y2="238.03"/>
<line x1="437" y1="164.05" x2="440" y2="164.05"/>
<line x1="663.8" y1="164.05" x2="660.8" y2="164.05"/>
<line x1="437" y1="126.48" x2="440" y2="126.48"/>
<line x1="663.8" y1="126.48" x2="660.8" y2="126.48"/>
<line x1="437" y1="99.82" x2="440" y2="99.82"/>
<line x1="663.8" y1="99.82" x2="660.8" y2="99.82"/>
<line x1="437" y1="79.15" x2="440" y2="79.15"/>
<line x1="663.8" y1="79.15" x2="660.8" y2="79.15"/>
<line x1="437" y1="62.26" x2="440" y2="62.26"/>
<line x1="663.8" y1="62.26" x2="660.8" y2="62.26"/>
<line x1="437" y1="47.98" x2="440" y2="47.98"/>
<line x1="663.8" y1="47.98" x2="660.8" y2="47.98"/>
<line x1="437" y1="35.6" x2="440" y2="35.6"/>
<line x1="663.8" y1="35.6" x2="660.8" y2="35.6"/>
<line x1="437" y1="24.69" x2="440" y2="24.69"/>
<line x1="663.8" y1="24.69" x2="660.8" y2="24.69"/>
</g>
<rect x="437" y="6.1" width="226.8" height="435.5" fill="none" stroke="#262626" stroke-width="1.8"/>
<text x="412.73" y="467.9" style="font-family:'Liberation Serif',serif;font-size:25.2px" fill="#262626">10</text>
<rect x="439.32" y="453.35" width="10.5" height="1.1" fill="#262626"/>
<text x="450.95" y="459" style="font-family:'Liberation Serif',serif;font-size:17.5px" fill="#262626">3</text>
<text x="526.22" y="467.9" style="font-family:'Liberation Serif',serif;font-size:25.2px" fill="#262626">10</text>
<rect x="552.81" y="453.35" width="10.5" height="1.1" fill="#262626"/>
<text x="564.52" y="459" style="font-family:'Liberation Serif',serif;font-size:17.5px" fill="#262626">2</text>
<text x="640.06" y="467.9" style="font-family:'Liberation Serif',serif;font-size:25.2px" fill="#262626">10</text>
<rect x="666.65" y="453.35" width="10.5" height="1.1" fill="#262626"/>
<text x="677.57" y="459" style="font-family:'Liberation Serif',serif;font-size:17.5px" fill="#262626">1</text>
<text x="383.61" y="447.9" style="font-family:'Liberation Serif',serif;font-size:25.2px" fill="#262626">10</text>
<rect x="410.2" y="433.35" width="10.5" height="1.1" fill="#262626"/>
<text x="421.91" y="439" style="font-family:'Liberation Serif',serif;font-size:17.5px" fill="#262626">2</text>
<text x="384.48" y="234.57" style="font-family:'Liberation Serif',serif;font-size:25.2px" fill="#262626">10</text>
<rect x="411.07" y="220.02" width="10.5" height="1.1" fill="#262626"/>
<text x="422" y="225.67" style="font-family:'Liberation Serif',serif;font-size:17.5px" fill="#262626">1</text>
<text x="396.96" y="21.23" style="font-family:'Liberation Serif',serif;font-size:25.2px" fill="#262626">10</text>
<text x="421.65" y="12.33" style="font-family:'Liberation Serif',serif;font-size:17.5px" fill="#262626">0</text>
<text x="550.4" y="502" text-anchor="middle" style="font-family:'Liberation Serif',serif;font-size:27px" fill="#000">Pressure (mbar)</text>
<text x="347.2" y="25.8" style="font-family:'Liberation Serif',serif;font-size:31.5px" fill="#000">(b)</text>
<text transform="translate(365,223.5) rotate(-90)" text-anchor="middle" style="font-family:'Liberation Serif',serif;font-size:29.6px" fill="#000"><tspan font-style="italic">T</tspan><tspan dy="12.2" style="font-size:21.6px">CoM</tspan><tspan dy="-12.2"> / </tspan><tspan font-style="italic">T</tspan><tspan dy="12.2" style="font-size:21.6px">0</tspan></text>
<path d="M97.3,817.5 L100.16,813.69 L103.03,809.87 L105.89,806.06 L108.76,802.23 L111.62,798.41 L114.49,794.59 L117.35,790.77 L120.22,786.96 L123.08,783.14 L125.95,779.33 L128.81,775.53 L131.67,771.74 L134.54,767.95 L137.4,764.17 L140.27,760.4 L143.13,756.65 L146,752.91 L148.86,749.18 L151.73,745.46 L154.59,741.76 L157.46,738.08 L160.32,734.41 L163.18,730.77 L166.05,727.14 L168.91,723.54 L171.78,719.96 L174.64,716.4 L177.51,712.87 L180.37,709.36 L183.24,705.88 L186.1,702.42 L188.97,699 L191.83,695.6 L194.69,692.24 L197.56,688.91 L200.42,685.61 L203.29,682.35 L206.15,679.12 L209.02,675.93 L211.88,672.77 L214.75,669.66 L217.61,666.58 L220.48,663.55 L223.34,660.55 L226.21,657.61 L229.07,654.7 L231.93,651.84 L234.8,649.03 L237.66,646.26 L240.53,643.54 L243.39,640.87 L246.26,638.25 L249.12,635.69 L251.99,633.18 L254.85,630.72 L257.72,628.31 L260.58,625.97 L263.44,623.67 L266.31,621.44 L269.17,619.27 L272.04,617.16 L274.9,615.11 L277.77,613.12 L280.63,611.2 L283.5,609.34 L286.36,607.54 L289.23,605.82 L292.09,604.16 L294.95,602.57 L297.82,601.05 L300.68,599.61 L303.55,598.23 L306.41,596.93 L309.28,595.71 L312.14,594.56 L315.01,593.48 L317.87,592.49 L320.74,591.57 L323.6,590.73 L323.6,596.27 L320.74,597.36 L317.87,598.53 L315.01,599.76 L312.14,601.06 L309.28,602.43 L306.41,603.87 L303.55,605.37 L300.68,606.94 L297.82,608.57 L294.95,610.26 L292.09,612.01 L289.23,613.83 L286.36,615.71 L283.5,617.64 L280.63,619.64 L277.77,621.69 L274.9,623.8 L272.04,625.96 L269.17,628.18 L266.31,630.45 L263.44,632.77 L260.58,635.15 L257.72,637.57 L254.85,640.05 L251.99,642.57 L249.12,645.15 L246.26,647.77 L243.39,650.43 L240.53,653.14 L237.66,655.9 L234.8,658.7 L231.93,661.54 L229.07,664.42 L226.21,667.35 L223.34,670.31 L220.48,673.31 L217.61,676.35 L214.75,679.43 L211.88,682.54 L209.02,685.69 L206.15,688.87 L203.29,692.08 L200.42,695.33 L197.56,698.61 L194.69,701.92 L191.83,705.25 L188.97,708.62 L186.1,712.01 L183.24,715.43 L180.37,718.88 L177.51,722.35 L174.64,725.85 L171.78,729.36 L168.91,732.9 L166.05,736.46 L163.18,740.04 L160.32,743.64 L157.46,747.26 L154.59,750.89 L151.73,754.54 L148.86,758.21 L146,761.89 L143.13,765.59 L140.27,769.29 L137.4,773.01 L134.54,776.74 L131.67,780.48 L128.81,784.23 L125.95,787.98 L123.08,791.75 L120.22,795.52 L117.35,799.29 L114.49,803.07 L111.62,806.85 L108.76,810.64 L105.89,814.42 L103.03,818.21 L100.16,821.99 L97.3,825.78 Z" fill="#e0fae0" />
<path d="M97.3,825.78 L100.16,821.99 L103.03,818.21 L105.89,814.42 L108.76,810.64 L111.62,806.85 L114.49,803.07 L117.35,799.29 L120.22,795.52 L123.08,791.75 L125.95,787.98 L128.81,784.23 L131.67,780.48 L134.54,776.74 L137.4,773.01 L140.27,769.29 L143.13,765.59 L146,761.89 L148.86,758.21 L151.73,754.54 L154.59,750.89 L157.46,747.26 L160.32,743.64 L163.18,740.04 L166.05,736.46 L168.91,732.9 L171.78,729.36 L174.64,725.85 L177.51,722.35 L180.37,718.88 L183.24,715.43 L186.1,712.01 L188.97,708.62 L191.83,705.25 L194.69,701.92 L197.56,698.61 L200.42,695.33 L203.29,692.08 L206.15,688.87 L209.02,685.69 L211.88,682.54 L214.75,679.43 L217.61,676.35 L220.48,673.31 L223.34,670.31 L226.21,667.35 L229.07,664.42 L231.93,661.54 L234.8,658.7 L237.66,655.9 L240.53,653.14 L243.39,650.43 L246.26,647.77 L249.12,645.15 L251.99,642.57 L254.85,640.05 L257.72,637.57 L260.58,635.15 L263.44,632.77 L266.31,630.45 L269.17,628.18 L272.04,625.96 L274.9,623.8 L277.77,621.69 L280.63,619.64 L283.5,617.64 L286.36,615.71 L289.23,613.83 L292.09,612.01 L294.95,610.26 L297.82,608.57 L300.68,606.94 L303.55,605.37 L306.41,603.87 L309.28,602.43 L312.14,601.06 L315.01,599.76 L317.87,598.53 L320.74,597.36 L323.6,596.27 L323.6,603.83 L320.74,605.26 L317.87,606.75 L315.01,608.32 L312.14,609.95 L309.28,611.64 L306.41,613.4 L303.55,615.23 L300.68,617.11 L297.82,619.06 L294.95,621.07 L292.09,623.14 L289.23,625.27 L286.36,627.46 L283.5,629.7 L280.63,632 L277.77,634.36 L274.9,636.77 L272.04,639.24 L269.17,641.76 L266.31,644.33 L263.44,646.96 L260.58,649.63 L257.72,652.36 L254.85,655.13 L251.99,657.95 L249.12,660.82 L246.26,663.74 L243.39,666.7 L240.53,669.71 L237.66,672.76 L234.8,675.86 L231.93,678.99 L229.07,682.17 L226.21,685.39 L223.34,688.65 L220.48,691.95 L217.61,695.29 L214.75,698.66 L211.88,702.07 L209.02,705.52 L206.15,709 L203.29,712.51 L200.42,716.06 L197.56,719.64 L194.69,723.25 L191.83,726.89 L188.97,730.56 L186.1,734.26 L183.24,737.99 L180.37,741.75 L177.51,745.53 L174.64,749.34 L171.78,753.17 L168.91,757.02 L166.05,760.9 L163.18,764.8 L160.32,768.73 L157.46,772.67 L154.59,776.63 L151.73,780.61 L148.86,784.61 L146,788.62 L143.13,792.66 L140.27,796.7 L137.4,800.76 L134.54,804.84 L131.67,808.93 L128.81,813.03 L125.95,817.14 L123.08,821.26 L120.22,825.39 L117.35,829.53 L114.49,833.67 L111.62,837.83 L108.76,841.98 L105.89,846.15 L103.03,850.32 L100.16,854.49 L97.3,858.66 Z" fill="#cce5e3" />
<path d="M97.3,858.66 L100.16,854.49 L103.03,850.32 L105.89,846.15 L108.76,841.98 L111.62,837.83 L114.49,833.67 L117.35,829.53 L120.22,825.39 L123.08,821.26 L125.95,817.14 L128.81,813.03 L131.67,808.93 L134.54,804.84 L137.4,800.76 L140.27,796.7 L143.13,792.66 L146,788.62 L148.86,784.61 L151.73,780.61 L154.59,776.63 L157.46,772.67 L160.32,768.73 L163.18,764.8 L166.05,760.9 L168.91,757.02 L171.78,753.17 L174.64,749.34 L177.51,745.53 L180.37,741.75 L183.24,737.99 L186.1,734.26 L188.97,730.56 L191.83,726.89 L194.69,723.25 L197.56,719.64 L200.42,716.06 L203.29,712.51 L206.15,709 L209.02,705.52 L211.88,702.07 L214.75,698.66 L217.61,695.29 L220.48,691.95 L223.34,688.65 L226.21,685.39 L229.07,682.17 L231.93,678.99 L234.8,675.86 L237.66,672.76 L240.53,669.71 L243.39,666.7 L246.26,663.74 L249.12,660.82 L251.99,657.95 L254.85,655.13 L257.72,652.36 L260.58,649.63 L263.44,646.96 L266.31,644.33 L269.17,641.76 L272.04,639.24 L274.9,636.77 L277.77,634.36 L280.63,632 L283.5,629.7 L286.36,627.46 L289.23,625.27 L292.09,623.14 L294.95,621.07 L297.82,619.06 L300.68,617.11 L303.55,615.23 L306.41,613.4 L309.28,611.64 L312.14,609.95 L315.01,608.32 L317.87,606.75 L320.74,605.26 L323.6,603.83 L323.6,651.67 L320.74,652.76 L317.87,653.92 L315.01,655.14 L312.14,656.41 L309.28,657.75 L306.41,659.15 L303.55,660.6 L300.68,662.11 L297.82,663.68 L294.95,665.31 L292.09,666.99 L289.23,668.73 L286.36,670.52 L283.5,672.37 L280.63,674.27 L277.77,676.22 L274.9,678.23 L272.04,680.29 L269.17,682.4 L266.31,684.56 L263.44,686.77 L260.58,689.03 L257.72,691.34 L254.85,693.69 L251.99,696.1 L249.12,698.55 L246.26,701.05 L243.39,703.6 L240.53,706.19 L237.66,708.82 L234.8,711.5 L231.93,714.23 L229.07,716.99 L226.21,719.8 L223.34,722.66 L220.48,725.55 L217.61,728.48 L214.75,731.46 L211.88,734.47 L209.02,737.52 L206.15,740.61 L203.29,743.74 L200.42,746.91 L197.56,750.11 L194.69,753.35 L191.83,756.63 L188.97,759.94 L186.1,763.28 L183.24,766.66 L180.37,770.07 L177.51,773.52 L174.64,776.99 L171.78,780.5 L168.91,784.04 L166.05,787.61 L163.18,791.2 L160.32,794.83 L157.46,798.49 L154.59,802.17 L151.73,805.88 L148.86,809.62 L146,813.39 L143.13,817.18 L140.27,820.99 L137.4,824.83 L134.54,828.69 L131.67,832.58 L128.81,836.49 L125.95,840.42 L123.08,844.37 L120.22,848.35 L117.35,852.34 L114.49,856.35 L111.62,860.39 L108.76,864.44 L105.89,868.51 L103.03,872.59 L100.16,876.7 L97.3,880.82 Z" fill="#d0d4d0" />
<path d="M97.3,880.82 L100.16,876.7 L103.03,872.59 L105.89,868.51 L108.76,864.44 L111.62,860.39 L114.49,856.35 L117.35,852.34 L120.22,848.35 L123.08,844.37 L125.95,840.42 L128.81,836.49 L131.67,832.58 L134.54,828.69 L137.4,824.83 L140.27,820.99 L143.13,817.18 L146,813.39 L148.86,809.62 L151.73,805.88 L154.59,802.17 L157.46,798.49 L160.32,794.83 L163.18,791.2 L166.05,787.61 L168.91,784.04 L171.78,780.5 L174.64,776.99 L177.51,773.52 L180.37,770.07 L183.24,766.66 L186.1,763.28 L188.97,759.94 L191.83,756.63 L194.69,753.35 L197.56,750.11 L200.42,746.91 L203.29,743.74 L206.15,740.61 L209.02,737.52 L211.88,734.47 L214.75,731.46 L217.61,728.48 L220.48,725.55 L223.34,722.66 L226.21,719.8 L229.07,716.99 L231.93,714.23 L234.8,711.5 L237.66,708.82 L240.53,706.19 L243.39,703.6 L246.26,701.05 L249.12,698.55 L251.99,696.1 L254.85,693.69 L257.72,691.34 L260.58,689.03 L263.44,686.77 L266.31,684.56 L269.17,682.4 L272.04,680.29 L274.9,678.23 L277.77,676.22 L280.63,674.27 L283.5,672.37 L286.36,670.52 L289.23,668.73 L292.09,666.99 L294.95,665.31 L297.82,663.68 L300.68,662.11 L303.55,660.6 L306.41,659.15 L309.28,657.75 L312.14,656.41 L315.01,655.14 L317.87,653.92 L320.74,652.76 L323.6,651.67 L323.6,657.29 L320.74,658.31 L317.87,659.4 L315.01,660.56 L312.14,661.79 L309.28,663.08 L306.41,664.45 L303.55,665.88 L300.68,667.38 L297.82,668.94 L294.95,670.57 L292.09,672.26 L289.23,674.01 L286.36,675.83 L283.5,677.7 L280.63,679.64 L277.77,681.63 L274.9,683.68 L272.04,685.78 L269.17,687.94 L266.31,690.16 L263.44,692.43 L260.58,694.75 L257.72,697.13 L254.85,699.55 L251.99,702.03 L249.12,704.55 L246.26,707.13 L243.39,709.75 L240.53,712.41 L237.66,715.12 L234.8,717.88 L231.93,720.68 L229.07,723.52 L226.21,726.4 L223.34,729.33 L220.48,732.29 L217.61,735.29 L214.75,738.34 L211.88,741.41 L209.02,744.53 L206.15,747.67 L203.29,750.86 L200.42,754.07 L197.56,757.32 L194.69,760.6 L191.83,763.91 L188.97,767.25 L186.1,770.62 L183.24,774.01 L180.37,777.43 L177.51,780.88 L174.64,784.35 L171.78,787.85 L168.91,791.37 L166.05,794.91 L163.18,798.47 L160.32,802.05 L157.46,805.65 L154.59,809.27 L151.73,812.91 L148.86,816.56 L146,820.23 L143.13,823.91 L140.27,827.61 L137.4,831.32 L134.54,835.04 L131.67,838.77 L128.81,842.51 L125.95,846.26 L123.08,850.02 L120.22,853.79 L117.35,857.56 L114.49,861.34 L111.62,865.12 L108.76,868.9 L105.89,872.69 L103.03,876.47 L100.16,880.26 L97.3,884.05 Z" fill="#d8d8f0" />
<path d="M97.3,884.05 L100.16,880.26 L103.03,876.47 L105.89,872.69 L108.76,868.9 L111.62,865.12 L114.49,861.34 L117.35,857.56 L120.22,853.79 L123.08,850.02 L125.95,846.26 L128.81,842.51 L131.67,838.77 L134.54,835.04 L137.4,831.32 L140.27,827.61 L143.13,823.91 L146,820.23 L148.86,816.56 L151.73,812.91 L154.59,809.27 L157.46,805.65 L160.32,802.05 L163.18,798.47 L166.05,794.91 L168.91,791.37 L171.78,787.85 L174.64,784.35 L177.51,780.88 L180.37,777.43 L183.24,774.01 L186.1,770.62 L188.97,767.25 L191.83,763.91 L194.69,760.6 L197.56,757.32 L200.42,754.07 L203.29,750.86 L206.15,747.67 L209.02,744.53 L211.88,741.41 L214.75,738.34 L217.61,735.29 L220.48,732.29 L223.34,729.33 L226.21,726.4 L229.07,723.52 L231.93,720.68 L234.8,717.88 L237.66,715.12 L240.53,712.41 L243.39,709.75 L246.26,707.13 L249.12,704.55 L251.99,702.03 L254.85,699.55 L257.72,697.13 L260.58,694.75 L263.44,692.43 L266.31,690.16 L269.17,687.94 L272.04,685.78 L274.9,683.68 L277.77,681.63 L280.63,679.64 L283.5,677.7 L286.36,675.83 L289.23,674.01 L292.09,672.26 L294.95,670.57 L297.82,668.94 L300.68,667.38 L303.55,665.88 L306.41,664.45 L309.28,663.08 L312.14,661.79 L315.01,660.56 L317.87,659.4 L320.74,658.31 L323.6,657.29 L323.6,664.99 L320.74,666.17 L317.87,667.45 L315.01,668.81 L312.14,670.26 L309.28,671.79 L306.41,673.4 L303.55,675.1 L300.68,676.87 L297.82,678.73 L294.95,680.66 L292.09,682.67 L289.23,684.75 L286.36,686.9 L283.5,689.13 L280.63,691.42 L277.77,693.79 L274.9,696.22 L272.04,698.72 L269.17,701.28 L266.31,703.9 L263.44,706.58 L260.58,709.33 L257.72,712.13 L254.85,714.99 L251.99,717.9 L249.12,720.87 L246.26,723.89 L243.39,726.96 L240.53,730.08 L237.66,733.25 L234.8,736.47 L231.93,739.73 L229.07,743.03 L226.21,746.38 L223.34,749.77 L220.48,753.2 L217.61,756.66 L214.75,760.16 L211.88,763.7 L209.02,767.27 L206.15,770.87 L203.29,774.5 L200.42,778.16 L197.56,781.85 L194.69,785.57 L191.83,789.31 L188.97,793.07 L186.1,796.86 L183.24,800.67 L180.37,804.49 L177.51,808.34 L174.64,812.19 L171.78,816.07 L168.91,819.95 L166.05,823.85 L163.18,827.76 L160.32,831.68 L157.46,835.61 L154.59,839.54 L151.73,843.47 L148.86,847.41 L146,851.35 L143.13,855.29 L140.27,859.23 L137.4,863.17 L134.54,867.1 L131.67,871.03 L128.81,874.95 L125.95,878.86 L123.08,882.76 L120.22,886.65 L117.35,890.52 L114.49,894.38 L111.62,898.23 L108.76,902.06 L105.89,905.87 L103.03,909.66 L100.16,913.43 L97.3,917.17 Z" fill="#ffe0e0" />
<g clip-path="url(#clipC)">
<path d="M97.3,825.78 L100.16,821.99 L103.03,818.21 L105.89,814.42 L108.76,810.64 L111.62,806.85 L114.49,803.07 L117.35,799.29 L120.22,795.52 L123.08,791.75 L125.95,787.98 L128.81,784.23 L131.67,780.48 L134.54,776.74 L137.4,773.01 L140.27,769.29 L143.13,765.59 L146,761.89 L148.86,758.21 L151.73,754.54 L154.59,750.89 L157.46,747.26 L160.32,743.64 L163.18,740.04 L166.05,736.46 L168.91,732.9 L171.78,729.36 L174.64,725.85 L177.51,722.35 L180.37,718.88 L183.24,715.43 L186.1,712.01 L188.97,708.62 L191.83,705.25 L194.69,701.92 L197.56,698.61 L200.42,695.33 L203.29,692.08 L206.15,688.87 L209.02,685.69 L211.88,682.54 L214.75,679.43 L217.61,676.35 L220.48,673.31 L223.34,670.31 L226.21,667.35 L229.07,664.42 L231.93,661.54 L234.8,658.7 L237.66,655.9 L240.53,653.14 L243.39,650.43 L246.26,647.77 L249.12,645.15 L251.99,642.57 L254.85,640.05 L257.72,637.57 L260.58,635.15 L263.44,632.77 L266.31,630.45 L269.17,628.18 L272.04,625.96 L274.9,623.8 L277.77,621.69 L280.63,619.64 L283.5,617.64 L286.36,615.71 L289.23,613.83 L292.09,612.01 L294.95,610.26 L297.82,608.57 L300.68,606.94 L303.55,605.37 L306.41,603.87 L309.28,602.43 L312.14,601.06 L315.01,599.76 L317.87,598.53 L320.74,597.36 L323.6,596.27" fill="none" stroke="#c8c8fa" stroke-width="3" />
<path d="M97.3,858.66 L100.16,854.49 L103.03,850.32 L105.89,846.15 L108.76,841.98 L111.62,837.83 L114.49,833.67 L117.35,829.53 L120.22,825.39 L123.08,821.26 L125.95,817.14 L128.81,813.03 L131.67,808.93 L134.54,804.84 L137.4,800.76 L140.27,796.7 L143.13,792.66 L146,788.62 L148.86,784.61 L151.73,780.61 L154.59,776.63 L157.46,772.67 L160.32,768.73 L163.18,764.8 L166.05,760.9 L168.91,757.02 L171.78,753.17 L174.64,749.34 L177.51,745.53 L180.37,741.75 L183.24,737.99 L186.1,734.26 L188.97,730.56 L191.83,726.89 L194.69,723.25 L197.56,719.64 L200.42,716.06 L203.29,712.51 L206.15,709 L209.02,705.52 L211.88,702.07 L214.75,698.66 L217.61,695.29 L220.48,691.95 L223.34,688.65 L226.21,685.39 L229.07,682.17 L231.93,678.99 L234.8,675.86 L237.66,672.76 L240.53,669.71 L243.39,666.7 L246.26,663.74 L249.12,660.82 L251.99,657.95 L254.85,655.13 L257.72,652.36 L260.58,649.63 L263.44,646.96 L266.31,644.33 L269.17,641.76 L272.04,639.24 L274.9,636.77 L277.77,634.36 L280.63,632 L283.5,629.7 L286.36,627.46 L289.23,625.27 L292.09,623.14 L294.95,621.07 L297.82,619.06 L300.68,617.11 L303.55,615.23 L306.41,613.4 L309.28,611.64 L312.14,609.95 L315.01,608.32 L317.87,606.75 L320.74,605.26 L323.6,603.83" fill="none" stroke="#ffc6c6" stroke-width="3" />
<path d="M97.3,880.82 L100.16,876.7 L103.03,872.59 L105.89,868.51 L108.76,864.44 L111.62,860.39 L114.49,856.35 L117.35,852.34 L120.22,848.35 L123.08,844.37 L125.95,840.42 L128.81,836.49 L131.67,832.58 L134.54,828.69 L137.4,824.83 L140.27,820.99 L143.13,817.18 L146,813.39 L148.86,809.62 L151.73,805.88 L154.59,802.17 L157.46,798.49 L160.32,794.83 L163.18,791.2 L166.05,787.61 L168.91,784.04 L171.78,780.5 L174.64,776.99 L177.51,773.52 L180.37,770.07 L183.24,766.66 L186.1,763.28 L188.97,759.94 L191.83,756.63 L194.69,753.35 L197.56,750.11 L200.42,746.91 L203.29,743.74 L206.15,740.61 L209.02,737.52 L211.88,734.47 L214.75,731.46 L217.61,728.48 L220.48,725.55 L223.34,722.66 L226.21,719.8 L229.07,716.99 L231.93,714.23 L234.8,711.5 L237.66,708.82 L240.53,706.19 L243.39,703.6 L246.26,701.05 L249.12,698.55 L251.99,696.1 L254.85,693.69 L257.72,691.34 L260.58,689.03 L263.44,686.77 L266.31,684.56 L269.17,682.4 L272.04,680.29 L274.9,678.23 L277.77,676.22 L280.63,674.27 L283.5,672.37 L286.36,670.52 L289.23,668.73 L292.09,666.99 L294.95,665.31 L297.82,663.68 L300.68,662.11 L303.55,660.6 L306.41,659.15 L309.28,657.75 L312.14,656.41 L315.01,655.14 L317.87,653.92 L320.74,652.76 L323.6,651.67" fill="none" stroke="#e0fae0" stroke-width="2.5" />
<path d="M97.3,884.05 L100.16,880.26 L103.03,876.47 L105.89,872.69 L108.76,868.9 L111.62,865.12 L114.49,861.34 L117.35,857.56 L120.22,853.79 L123.08,850.02 L125.95,846.26 L128.81,842.51 L131.67,838.77 L134.54,835.04 L137.4,831.32 L140.27,827.61 L143.13,823.91 L146,820.23 L148.86,816.56 L151.73,812.91 L154.59,809.27 L157.46,805.65 L160.32,802.05 L163.18,798.47 L166.05,794.91 L168.91,791.37 L171.78,787.85 L174.64,784.35 L177.51,780.88 L180.37,777.43 L183.24,774.01 L186.1,770.62 L188.97,767.25 L191.83,763.91 L194.69,760.6 L197.56,757.32 L200.42,754.07 L203.29,750.86 L206.15,747.67 L209.02,744.53 L211.88,741.41 L214.75,738.34 L217.61,735.29 L220.48,732.29 L223.34,729.33 L226.21,726.4 L229.07,723.52 L231.93,720.68 L234.8,717.88 L237.66,715.12 L240.53,712.41 L243.39,709.75 L246.26,707.13 L249.12,704.55 L251.99,702.03 L254.85,699.55 L257.72,697.13 L260.58,694.75 L263.44,692.43 L266.31,690.16 L269.17,687.94 L272.04,685.78 L274.9,683.68 L277.77,681.63 L280.63,679.64 L283.5,677.7 L286.36,675.83 L289.23,674.01 L292.09,672.26 L294.95,670.57 L297.82,668.94 L300.68,667.38 L303.55,665.88 L306.41,664.45 L309.28,663.08 L312.14,661.79 L315.01,660.56 L317.87,659.4 L320.74,658.31 L323.6,657.29" fill="none" stroke="#c8c8fa" stroke-width="3" />
<path d="M97.3,917.17 L100.16,913.43 L103.03,909.66 L105.89,905.87 L108.76,902.06 L111.62,898.23 L114.49,894.38 L117.35,890.52 L120.22,886.65 L123.08,882.76 L125.95,878.86 L128.81,874.95 L131.67,871.03 L134.54,867.1 L137.4,863.17 L140.27,859.23 L143.13,855.29 L146,851.35 L148.86,847.41 L151.73,843.47 L154.59,839.54 L157.46,835.61 L160.32,831.68 L163.18,827.76 L166.05,823.85 L168.91,819.95 L171.78,816.07 L174.64,812.19 L177.51,808.34 L180.37,804.49 L183.24,800.67 L186.1,796.86 L188.97,793.07 L191.83,789.31 L194.69,785.57 L197.56,781.85 L200.42,778.16 L203.29,774.5 L206.15,770.87 L209.02,767.27 L211.88,763.7 L214.75,760.16 L217.61,756.66 L220.48,753.2 L223.34,749.77 L226.21,746.38 L229.07,743.03 L231.93,739.73 L234.8,736.47 L237.66,733.25 L240.53,730.08 L243.39,726.96 L246.26,723.89 L249.12,720.87 L251.99,717.9 L254.85,714.99 L257.72,712.13 L260.58,709.33 L263.44,706.58 L266.31,703.9 L269.17,701.28 L272.04,698.72 L274.9,696.22 L277.77,693.79 L280.63,691.42 L283.5,689.13 L286.36,686.9 L289.23,684.75 L292.09,682.67 L294.95,680.66 L297.82,678.73 L300.68,676.87 L303.55,675.1 L306.41,673.4 L309.28,671.79 L312.14,670.26 L315.01,668.81 L317.87,667.45 L320.74,666.17 L323.6,664.99" fill="none" stroke="#ffc6c6" stroke-width="3" />
</g>
<g stroke="#e8825f" stroke-width="1.8" fill="#e8825f">
<line x1="122.4" y1="800" x2="122.4" y2="860.6" stroke-linecap="round"/>
<line x1="109.7" y1="827.6" x2="132.2" y2="827.6"/>
<line x1="109.7" y1="825.3" x2="109.7" y2="829.9"/>
<line x1="132.2" y1="825.3" x2="132.2" y2="829.9"/>
<circle cx="122.4" cy="827.6" r="3.8" stroke="none"/>
</g>
<g stroke="#e8825f" stroke-width="1.8" fill="#e8825f">
<line x1="132.8" y1="753.5" x2="132.8" y2="812" stroke-linecap="round"/>
<line x1="119.5" y1="782.3" x2="143.5" y2="782.3"/>
<line x1="119.5" y1="780" x2="119.5" y2="784.6"/>
<line x1="143.5" y1="780" x2="143.5" y2="784.6"/>
<circle cx="132.8" cy="782.3" r="3.8" stroke="none"/>
</g>
<g stroke="#e8825f" stroke-width="1.8" fill="#e8825f">
<line x1="202" y1="700" x2="202" y2="745" stroke-linecap="round"/>
<line x1="189.4" y1="721" x2="213.1" y2="721"/>
<line x1="189.4" y1="718.7" x2="189.4" y2="723.3"/>
<line x1="213.1" y1="718.7" x2="213.1" y2="723.3"/>
<circle cx="202" cy="721" r="3.8" stroke="none"/>
</g>
<g stroke="#e8825f" stroke-width="1.8" fill="#e8825f">
<line x1="232.7" y1="665" x2="232.7" y2="712" stroke-linecap="round"/>
<line x1="220.2" y1="689" x2="243.8" y2="689"/>
<line x1="220.2" y1="686.7" x2="220.2" y2="691.3"/>
<line x1="243.8" y1="686.7" x2="243.8" y2="691.3"/>
<circle cx="232.7" cy="689" r="3.8" stroke="none"/>
</g>
<g stroke="#e8825f" stroke-width="1.8" fill="#e8825f">
<line x1="254.4" y1="634" x2="254.4" y2="690" stroke-linecap="round"/>
<line x1="241.6" y1="660.5" x2="265.5" y2="660.5"/>
<line x1="241.6" y1="658.2" x2="241.6" y2="662.8"/>
<line x1="265.5" y1="658.2" x2="265.5" y2="662.8"/>
<circle cx="254.4" cy="660.5" r="3.8" stroke="none"/>
</g>
<g stroke="#e8825f" stroke-width="1.8" fill="#e8825f">
<line x1="271.5" y1="608.9" x2="271.5" y2="662" stroke-linecap="round"/>
<line x1="258.3" y1="635.4" x2="282.6" y2="635.4"/>
<line x1="258.3" y1="633.1" x2="258.3" y2="637.7"/>
<line x1="282.6" y1="633.1" x2="282.6" y2="637.7"/>
<circle cx="271.5" cy="635.4" r="3.8" stroke="none"/>
</g>
<g stroke="#e8825f" stroke-width="1.8" fill="#e8825f">
<line x1="285.1" y1="586.6" x2="285.1" y2="640" stroke-linecap="round"/>
<line x1="271.5" y1="614.4" x2="296.3" y2="614.4"/>
<line x1="271.5" y1="612.1" x2="271.5" y2="616.7"/>
<line x1="296.3" y1="612.1" x2="296.3" y2="616.7"/>
<circle cx="285.1" cy="614.4" r="3.8" stroke="none"/>
</g>
<g stroke="#9a28bf" stroke-width="1.8" fill="#9a28bf">
<line x1="122.9" y1="785" x2="122.9" y2="830" stroke-linecap="round"/>
<line x1="109.7" y1="806.5" x2="135" y2="806.5"/>
<line x1="109.7" y1="804.2" x2="109.7" y2="808.8"/>
<line x1="135" y1="804.2" x2="135" y2="808.8"/>
<circle cx="122.9" cy="806.5" r="3.8" stroke="none"/>
</g>
<g stroke="#9a28bf" stroke-width="1.8" fill="#9a28bf">
<line x1="132.8" y1="786" x2="132.8" y2="835" stroke-linecap="round"/>
<line x1="121" y1="809" x2="143.5" y2="809"/>
<line x1="121" y1="806.7" x2="121" y2="811.3"/>
<line x1="143.5" y1="806.7" x2="143.5" y2="811.3"/>
<circle cx="132.8" cy="809" r="3.8" stroke="none"/>
</g>
<g stroke="#9a28bf" stroke-width="1.8" fill="#9a28bf">
<line x1="202" y1="706" x2="202" y2="763.5" stroke-linecap="round"/>
<line x1="189.4" y1="731.1" x2="213.1" y2="731.1"/>
<line x1="189.4" y1="728.8" x2="189.4" y2="733.4"/>
<line x1="213.1" y1="728.8" x2="213.1" y2="733.4"/>
<circle cx="202" cy="731.1" r="3.8" stroke="none"/>
</g>
<g stroke="#9a28bf" stroke-width="1.8" fill="#9a28bf">
<line x1="232.7" y1="676" x2="232.7" y2="732.9" stroke-linecap="round"/>
<line x1="220.2" y1="701" x2="243.8" y2="701"/>
<line x1="220.2" y1="698.7" x2="220.2" y2="703.3"/>
<line x1="243.8" y1="698.7" x2="243.8" y2="703.3"/>
<circle cx="232.7" cy="701" r="3.8" stroke="none"/>
</g>
<g stroke="#9a28bf" stroke-width="1.8" fill="#9a28bf">
<line x1="254.4" y1="650" x2="254.4" y2="708.3" stroke-linecap="round"/>
<line x1="241.6" y1="676.7" x2="265.5" y2="676.7"/>
<line x1="241.6" y1="674.4" x2="241.6" y2="679"/>
<line x1="265.5" y1="674.4" x2="265.5" y2="679"/>
<circle cx="254.4" cy="676.7" r="3.8" stroke="none"/>
</g>
<g stroke="#9a28bf" stroke-width="1.8" fill="#9a28bf">
<line x1="271.5" y1="633" x2="271.5" y2="693" stroke-linecap="round"/>
<line x1="258.3" y1="661" x2="282.6" y2="661"/>
<line x1="258.3" y1="658.7" x2="258.3" y2="663.3"/>
<line x1="282.6" y1="658.7" x2="282.6" y2="663.3"/>
<circle cx="271.5" cy="661" r="3.8" stroke="none"/>
</g>
<g stroke="#9a28bf" stroke-width="1.8" fill="#9a28bf">
<line x1="285.1" y1="607" x2="285.1" y2="665.6" stroke-linecap="round"/>
<line x1="273" y1="633.7" x2="296.3" y2="633.7"/>
<line x1="273" y1="631.4" x2="273" y2="636"/>
<line x1="296.3" y1="631.4" x2="296.3" y2="636"/>
<circle cx="285.1" cy="633.7" r="3.8" stroke="none"/>
</g>
<g stroke="#3cb371" stroke-width="1.8" fill="#3cb371">
<line x1="122.9" y1="773.8" x2="122.9" y2="838" stroke-linecap="round"/>
<line x1="109.7" y1="802.3" x2="135" y2="802.3"/>
<line x1="109.7" y1="800" x2="109.7" y2="804.6"/>
<line x1="135" y1="800" x2="135" y2="804.6"/>
<circle cx="122.9" cy="802.3" r="3.8" stroke="none"/>
</g>
<g stroke="#3cb371" stroke-width="1.8" fill="#3cb371">
<line x1="132.8" y1="776" x2="132.8" y2="840.8" stroke-linecap="round"/>
<line x1="121" y1="804.8" x2="143.5" y2="804.8"/>
<line x1="121" y1="802.5" x2="121" y2="807.1"/>
<line x1="143.5" y1="802.5" x2="143.5" y2="807.1"/>
<circle cx="132.8" cy="804.8" r="3.8" stroke="none"/>
</g>
<g stroke="#3cb371" stroke-width="1.8" fill="#3cb371">
<line x1="202" y1="690.8" x2="202" y2="752.1" stroke-linecap="round"/>
<line x1="189.4" y1="718.3" x2="213.1" y2="718.3"/>
<line x1="189.4" y1="716" x2="189.4" y2="720.6"/>
<line x1="213.1" y1="716" x2="213.1" y2="720.6"/>
<circle cx="202" cy="718.3" r="3.8" stroke="none"/>
</g>
<g stroke="#3cb371" stroke-width="1.8" fill="#3cb371">
<line x1="232.7" y1="654.9" x2="232.7" y2="716.2" stroke-linecap="round"/>
<line x1="220.2" y1="682.4" x2="243.8" y2="682.4"/>
<line x1="220.2" y1="680.1" x2="220.2" y2="684.7"/>
<line x1="243.8" y1="680.1" x2="243.8" y2="684.7"/>
<circle cx="232.7" cy="682.4" r="3.8" stroke="none"/>
</g>
<g stroke="#3cb371" stroke-width="1.8" fill="#3cb371">
<line x1="254.4" y1="640.9" x2="254.4" y2="702.4" stroke-linecap="round"/>
<line x1="241.6" y1="668.7" x2="265.5" y2="668.7"/>
<line x1="241.6" y1="666.4" x2="241.6" y2="671"/>
<line x1="265.5" y1="666.4" x2="265.5" y2="671"/>
<circle cx="254.4" cy="668.7" r="3.8" stroke="none"/>
</g>
<g stroke="#3cb371" stroke-width="1.8" fill="#3cb371">
<line x1="271.5" y1="624.7" x2="271.5" y2="687.8" stroke-linecap="round"/>
<line x1="258.3" y1="652.5" x2="282.6" y2="652.5"/>
<line x1="258.3" y1="650.2" x2="258.3" y2="654.8"/>
<line x1="282.6" y1="650.2" x2="282.6" y2="654.8"/>
<circle cx="271.5" cy="652.5" r="3.8" stroke="none"/>
</g>
<g stroke="#3cb371" stroke-width="1.8" fill="#3cb371">
<line x1="285.1" y1="601.6" x2="285.1" y2="662.2" stroke-linecap="round"/>
<line x1="271.5" y1="629.3" x2="296.3" y2="629.3"/>
<line x1="271.5" y1="627" x2="271.5" y2="631.6"/>
<line x1="296.3" y1="627" x2="296.3" y2="631.6"/>
<circle cx="285.1" cy="629.3" r="3.8" stroke="none"/>
</g>
<circle cx="302.2" cy="588.4" r="0.9" fill="#3cb371"/>
<circle cx="302.2" cy="619.5" r="0.9" fill="#3cb371"/>
<circle cx="164" cy="909.2" r="3.9" fill="#e8825f"/>
<circle cx="164" cy="935.5" r="3.9" fill="#9a28bf"/>
<circle cx="164" cy="962.0" r="3.9" fill="#3cb371"/>
<text x="217" y="917.6" style="font-family:'Liberation Serif',serif;font-size:22px" fill="#000">Particle 1</text>
<text x="217" y="943.8" style="font-family:'Liberation Serif',serif;font-size:22px" fill="#000">Particle 2</text>
<text x="217" y="970.1" style="font-family:'Liberation Serif',serif;font-size:22px" fill="#000">Particle 3</text>
<line x1="125" y1="586.2" x2="153.8" y2="586.2" stroke="#000" stroke-width="3"/>
<path d="M109,586.2 Q119.75,583.95 130.5,579.9 L125,586.2 L130.5,592.5 Q119.75,588.45 109,586.2 Z" fill="#000"/>
<path d="M169.8,586.2 Q159.05,588.45 148.3,592.5 L153.8,586.2 L148.3,579.9 Q159.05,583.95 169.8,586.2 Z" fill="#000"/>
<circle cx="139.7" cy="586.2" r="9.4" fill="url(#sph)" stroke="#0d7a26" stroke-width="0.8"/>
<line x1="125" y1="615.8" x2="153.8" y2="615.8" stroke="#000" stroke-width="3"/>
<path d="M109,615.8 Q119.75,613.55 130.5,609.5 L125,615.8 L130.5,622.1 Q119.75,618.05 109,615.8 Z" fill="#000"/>
<path d="M169.8,615.8 Q159.05,618.05 148.3,622.1 L153.8,615.8 L148.3,609.5 Q159.05,613.55 169.8,615.8 Z" fill="#000"/>
<circle cx="139.7" cy="615.8" r="9.4" fill="url(#sph)" stroke="#0d7a26" stroke-width="0.8"/>
<line x1="125" y1="645.7" x2="153.8" y2="645.7" stroke="#000" stroke-width="3"/>
<path d="M109,645.7 Q119.75,643.45 130.5,639.4 L125,645.7 L130.5,652 Q119.75,647.95 109,645.7 Z" fill="#000"/>
<path d="M169.8,645.7 Q159.05,647.95 148.3,652 L153.8,645.7 L148.3,639.4 Q159.05,643.45 169.8,645.7 Z" fill="#000"/>
<circle cx="139.7" cy="645.7" r="9.4" fill="url(#sph)" stroke="#0d7a26" stroke-width="0.8"/>
<text x="169.5" y="595" style="font-family:'Liberation Serif',serif;font-size:25.5px" fill="#000">1</text>
<text x="170" y="624.1" style="font-family:'Liberation Serif',serif;font-size:25.5px" fill="#000">2</text>
<text x="170" y="654" style="font-family:'Liberation Serif',serif;font-size:25.5px" fill="#000">3</text>
<g stroke="#262626" stroke-width="1.2">
<line x1="149.66" y1="999.8" x2="149.66" y2="994.8"/>
<line x1="149.66" y1="564.2" x2="149.66" y2="569.2"/>
<line x1="323.6" y1="999.8" x2="323.6" y2="994.8"/>
<line x1="323.6" y1="564.2" x2="323.6" y2="569.2"/>
<line x1="97.3" y1="999.8" x2="97.3" y2="996.8"/>
<line x1="97.3" y1="564.2" x2="97.3" y2="567.2"/>
<line x1="111.07" y1="999.8" x2="111.07" y2="996.8"/>
<line x1="111.07" y1="564.2" x2="111.07" y2="567.2"/>
<line x1="122.72" y1="999.8" x2="122.72" y2="996.8"/>
<line x1="122.72" y1="564.2" x2="122.72" y2="567.2"/>
<line x1="132.8" y1="999.8" x2="132.8" y2="996.8"/>
<line x1="132.8" y1="564.2" x2="132.8" y2="567.2"/>
<line x1="141.7" y1="999.8" x2="141.7" y2="996.8"/>
<line x1="141.7" y1="564.2" x2="141.7" y2="567.2"/>
<line x1="202.02" y1="999.8" x2="202.02" y2="996.8"/>
<line x1="202.02" y1="564.2" x2="202.02" y2="567.2"/>
<line x1="232.65" y1="999.8" x2="232.65" y2="996.8"/>
<line x1="232.65" y1="564.2" x2="232.65" y2="567.2"/>
<line x1="254.38" y1="999.8" x2="254.38" y2="996.8"/>
<line x1="254.38" y1="564.2" x2="254.38" y2="567.2"/>
<line x1="271.24" y1="999.8" x2="271.24" y2="996.8"/>
<line x1="271.24" y1="564.2" x2="271.24" y2="567.2"/>
<line x1="285.01" y1="999.8" x2="285.01" y2="996.8"/>
<line x1="285.01" y1="564.2" x2="285.01" y2="567.2"/>
<line x1="296.66" y1="999.8" x2="296.66" y2="996.8"/>
<line x1="296.66" y1="564.2" x2="296.66" y2="567.2"/>
<line x1="306.74" y1="999.8" x2="306.74" y2="996.8"/>
<line x1="306.74" y1="564.2" x2="306.74" y2="567.2"/>
<line x1="315.64" y1="999.8" x2="315.64" y2="996.8"/>
<line x1="315.64" y1="564.2" x2="315.64" y2="567.2"/>
<line x1="97.3" y1="902.12" x2="102.3" y2="902.12"/>
<line x1="323.6" y1="902.12" x2="318.6" y2="902.12"/>
<line x1="97.3" y1="577.63" x2="102.3" y2="577.63"/>
<line x1="323.6" y1="577.63" x2="318.6" y2="577.63"/>
<line x1="97.3" y1="999.8" x2="100.3" y2="999.8"/>
<line x1="323.6" y1="999.8" x2="320.6" y2="999.8"/>
<line x1="97.3" y1="974.11" x2="100.3" y2="974.11"/>
<line x1="323.6" y1="974.11" x2="320.6" y2="974.11"/>
<line x1="97.3" y1="952.38" x2="100.3" y2="952.38"/>
<line x1="323.6" y1="952.38" x2="320.6" y2="952.38"/>
<line x1="97.3" y1="933.57" x2="100.3" y2="933.57"/>
<line x1="323.6" y1="933.57" x2="320.6" y2="933.57"/>
<line x1="97.3" y1="916.97" x2="100.3" y2="916.97"/>
<line x1="323.6" y1="916.97" x2="320.6" y2="916.97"/>
<line x1="97.3" y1="804.44" x2="100.3" y2="804.44"/>
<line x1="323.6" y1="804.44" x2="320.6" y2="804.44"/>
<line x1="97.3" y1="747.3" x2="100.3" y2="747.3"/>
<line x1="323.6" y1="747.3" x2="320.6" y2="747.3"/>
<line x1="97.3" y1="706.76" x2="100.3" y2="706.76"/>
<line x1="323.6" y1="706.76" x2="320.6" y2="706.76"/>
<line x1="97.3" y1="675.31" x2="100.3" y2="675.31"/>
<line x1="323.6" y1="675.31" x2="320.6" y2="675.31"/>
<line x1="97.3" y1="649.62" x2="100.3" y2="649.62"/>
<line x1="323.6" y1="649.62" x2="320.6" y2="649.62"/>
<line x1="97.3" y1="627.9" x2="100.3" y2="627.9"/>
<line x1="323.6" y1="627.9" x2="320.6" y2="627.9"/>
<line x1="97.3" y1="609.08" x2="100.3" y2="609.08"/>
<line x1="323.6" y1="609.08" x2="320.6" y2="609.08"/>
<line x1="97.3" y1="592.48" x2="100.3" y2="592.48"/>
<line x1="323.6" y1="592.48" x2="320.6" y2="592.48"/>
</g>
<rect x="97.3" y="564.2" width="226.3" height="435.6" fill="none" stroke="#262626" stroke-width="1.8"/>
<text x="125.48" y="1026.1" style="font-family:'Liberation Serif',serif;font-size:25.2px" fill="#262626">10</text>
<rect x="152.07" y="1011.55" width="10.5" height="1.1" fill="#262626"/>
<text x="163.79" y="1017.2" style="font-family:'Liberation Serif',serif;font-size:17.5px" fill="#262626">2</text>
<text x="299.86" y="1026.1" style="font-family:'Liberation Serif',serif;font-size:25.2px" fill="#262626">10</text>
<rect x="326.45" y="1011.55" width="10.5" height="1.1" fill="#262626"/>
<text x="337.37" y="1017.2" style="font-family:'Liberation Serif',serif;font-size:17.5px" fill="#262626">1</text>
<text x="44.78" y="908.42" style="font-family:'Liberation Serif',serif;font-size:25.2px" fill="#262626">10</text>
<rect x="71.38" y="893.87" width="10.5" height="1.1" fill="#262626"/>
<text x="82.3" y="899.52" style="font-family:'Liberation Serif',serif;font-size:17.5px" fill="#262626">1</text>
<text x="57.26" y="583.93" style="font-family:'Liberation Serif',serif;font-size:25.2px" fill="#262626">10</text>
<text x="81.95" y="575.03" style="font-family:'Liberation Serif',serif;font-size:17.5px" fill="#262626">0</text>
<text x="210.4" y="1059" text-anchor="middle" style="font-family:'Liberation Serif',serif;font-size:27px" fill="#000">Pressure (mbar)</text>
<text x="-1.25" y="558.3" style="font-family:'Liberation Serif',serif;font-size:31.3px" fill="#000">(c)</text>
<text transform="translate(25,782) rotate(-90)" text-anchor="middle" style="font-family:'Liberation Serif',serif;font-size:29.6px" fill="#000"><tspan font-style="italic">T</tspan><tspan dy="12.2" style="font-size:21.6px">CoM</tspan><tspan dy="-12.2"> / </tspan><tspan font-style="italic">T</tspan><tspan dy="12.2" style="font-size:21.6px">0</tspan></text>
<g stroke="#a0a0a0" stroke-width="1" stroke-dasharray="1.2,3.3" fill="none">
<line x1="456.18" y1="999.9" x2="456.18" y2="564.1"/>
<line x1="475.05" y1="999.9" x2="475.05" y2="564.1"/>
<line x1="493.93" y1="999.9" x2="493.93" y2="564.1"/>
<line x1="512.8" y1="999.9" x2="512.8" y2="564.1"/>
<line x1="531.67" y1="999.9" x2="531.67" y2="564.1"/>
<line x1="550.55" y1="999.9" x2="550.55" y2="564.1"/>
<line x1="569.42" y1="999.9" x2="569.42" y2="564.1"/>
<line x1="588.3" y1="999.9" x2="588.3" y2="564.1"/>
<line x1="607.17" y1="999.9" x2="607.17" y2="564.1"/>
<line x1="626.05" y1="999.9" x2="626.05" y2="564.1"/>
<line x1="644.92" y1="999.9" x2="644.92" y2="564.1"/>
<line x1="437.3" y1="964.43" x2="663.8" y2="964.43"/>
<line x1="437.3" y1="943.69" x2="663.8" y2="943.69"/>
<line x1="437.3" y1="928.97" x2="663.8" y2="928.97"/>
<line x1="437.3" y1="917.55" x2="663.8" y2="917.55"/>
<line x1="437.3" y1="908.22" x2="663.8" y2="908.22"/>
<line x1="437.3" y1="900.33" x2="663.8" y2="900.33"/>
<line x1="437.3" y1="893.5" x2="663.8" y2="893.5"/>
<line x1="437.3" y1="887.47" x2="663.8" y2="887.47"/>
<line x1="437.3" y1="882.08" x2="663.8" y2="882.08"/>
<line x1="437.3" y1="846.62" x2="663.8" y2="846.62"/>
<line x1="437.3" y1="825.87" x2="663.8" y2="825.87"/>
<line x1="437.3" y1="811.15" x2="663.8" y2="811.15"/>
<line x1="437.3" y1="799.73" x2="663.8" y2="799.73"/>
<line x1="437.3" y1="790.4" x2="663.8" y2="790.4"/>
<line x1="437.3" y1="782.52" x2="663.8" y2="782.52"/>
<line x1="437.3" y1="775.68" x2="663.8" y2="775.68"/>
<line x1="437.3" y1="769.66" x2="663.8" y2="769.66"/>
<line x1="437.3" y1="764.27" x2="663.8" y2="764.27"/>
<line x1="437.3" y1="728.8" x2="663.8" y2="728.8"/>
<line x1="437.3" y1="708.05" x2="663.8" y2="708.05"/>
<line x1="437.3" y1="693.33" x2="663.8" y2="693.33"/>
<line x1="437.3" y1="681.92" x2="663.8" y2="681.92"/>
<line x1="437.3" y1="672.59" x2="663.8" y2="672.59"/>
<line x1="437.3" y1="664.7" x2="663.8" y2="664.7"/>
<line x1="437.3" y1="657.87" x2="663.8" y2="657.87"/>
<line x1="437.3" y1="651.84" x2="663.8" y2="651.84"/>
<line x1="437.3" y1="646.45" x2="663.8" y2="646.45"/>
<line x1="437.3" y1="610.98" x2="663.8" y2="610.98"/>
<line x1="437.3" y1="590.24" x2="663.8" y2="590.24"/>
<line x1="437.3" y1="575.52" x2="663.8" y2="575.52"/>
</g>
<circle cx="475.52" cy="632.39" r="2.8" fill="none" stroke="#ff0000" stroke-width="1.6"/>
<circle cx="486.67" cy="625.78" r="2.8" fill="none" stroke="#ff0000" stroke-width="1.6"/>
<circle cx="485.01" cy="637.55" r="2.8" fill="none" stroke="#ff0000" stroke-width="1.6"/>
<circle cx="489.56" cy="643.13" r="2.8" fill="none" stroke="#ff0000" stroke-width="1.6"/>
<circle cx="483.36" cy="665.43" r="2.8" fill="none" stroke="#ff0000" stroke-width="1.6"/>
<circle cx="490.59" cy="668.52" r="2.8" fill="none" stroke="#ff0000" stroke-width="1.6"/>
<circle cx="472.62" cy="685.04" r="2.8" fill="none" stroke="#ff0000" stroke-width="1.6"/>
<circle cx="481.3" cy="684.42" r="2.8" fill="none" stroke="#ff0000" stroke-width="1.6"/>
<circle cx="493.27" cy="683.6" r="2.8" fill="none" stroke="#ff0000" stroke-width="1.6"/>
<circle cx="479.23" cy="693.92" r="2.8" fill="none" stroke="#ff0000" stroke-width="1.6"/>
<circle cx="477.58" cy="702.18" r="2.8" fill="none" stroke="#ff0000" stroke-width="1.6"/>
<circle cx="471.59" cy="730.47" r="2.8" fill="none" stroke="#ff0000" stroke-width="1.6"/>
<circle cx="468.91" cy="733.15" r="2.8" fill="none" stroke="#ff0000" stroke-width="1.6"/>
<circle cx="465.81" cy="738.73" r="2.8" fill="none" stroke="#ff0000" stroke-width="1.6"/>
<circle cx="462.71" cy="738.73" r="2.8" fill="none" stroke="#ff0000" stroke-width="1.6"/>
<circle cx="459.62" cy="739.35" r="2.8" fill="none" stroke="#ff0000" stroke-width="1.6"/>
<circle cx="457.55" cy="739.76" r="2.8" fill="none" stroke="#ff0000" stroke-width="1.6"/>
<circle cx="449.29" cy="743.89" r="2.8" fill="none" stroke="#ff0000" stroke-width="1.6"/>
<circle cx="452.39" cy="746.99" r="2.8" fill="none" stroke="#ff0000" stroke-width="1.6"/>
<circle cx="455.49" cy="749.05" r="2.8" fill="none" stroke="#ff0000" stroke-width="1.6"/>
<circle cx="452.8" cy="753.18" r="2.8" fill="none" stroke="#ff0000" stroke-width="1.6"/>
<circle cx="460.24" cy="755.87" r="2.8" fill="none" stroke="#ff0000" stroke-width="1.6"/>
<circle cx="464.37" cy="743.48" r="2.8" fill="none" stroke="#ff0000" stroke-width="1.6"/>
<circle cx="467.88" cy="741.83" r="2.8" fill="none" stroke="#ff0000" stroke-width="1.6"/>
<circle cx="499.88" cy="732.53" r="2.8" fill="none" stroke="#ff0000" stroke-width="1.6"/>
<circle cx="502.36" cy="743.48" r="2.8" fill="none" stroke="#ff0000" stroke-width="1.6"/>
<circle cx="490.59" cy="773.83" r="2.8" fill="none" stroke="#ff0000" stroke-width="1.6"/>
<circle cx="493.27" cy="782.09" r="2.8" fill="none" stroke="#ff0000" stroke-width="1.6"/>
<circle cx="495.75" cy="790.35" r="2.8" fill="none" stroke="#ff0000" stroke-width="1.6"/>
<circle cx="513.3" cy="773.83" r="2.8" fill="none" stroke="#ff0000" stroke-width="1.6"/>
<circle cx="516.4" cy="780.02" r="2.8" fill="none" stroke="#ff0000" stroke-width="1.6"/>
<circle cx="520.53" cy="770.73" r="2.8" fill="none" stroke="#ff0000" stroke-width="1.6"/>
<circle cx="521.56" cy="789.32" r="2.8" fill="none" stroke="#ff0000" stroke-width="1.6"/>
<circle cx="518.88" cy="788.9" r="2.8" fill="none" stroke="#ff0000" stroke-width="1.6"/>
<circle cx="510.2" cy="765.57" r="2.8" fill="none" stroke="#ff0000" stroke-width="1.6"/>
<circle cx="506.07" cy="774.86" r="2.8" fill="none" stroke="#ff0000" stroke-width="1.6"/>
<circle cx="526.31" cy="653.45" r="2.8" fill="none" stroke="#ff0000" stroke-width="1.6"/>
<circle cx="528.79" cy="658.82" r="2.8" fill="none" stroke="#ff0000" stroke-width="1.6"/>
<circle cx="523.63" cy="665.43" r="2.8" fill="none" stroke="#ff0000" stroke-width="1.6"/>
<circle cx="530.44" cy="675.34" r="2.8" fill="none" stroke="#ff0000" stroke-width="1.6"/>
<circle cx="522.18" cy="678.85" r="2.8" fill="none" stroke="#ff0000" stroke-width="1.6"/>
<circle cx="520.53" cy="688.14" r="2.8" fill="none" stroke="#ff0000" stroke-width="1.6"/>
<circle cx="532.92" cy="691.86" r="2.8" fill="none" stroke="#ff0000" stroke-width="1.6"/>
<circle cx="518.05" cy="701.56" r="2.8" fill="none" stroke="#ff0000" stroke-width="1.6"/>
<circle cx="533.95" cy="718.08" r="2.8" fill="none" stroke="#ff0000" stroke-width="1.6"/>
<circle cx="515.37" cy="715.4" r="2.8" fill="none" stroke="#ff0000" stroke-width="1.6"/>
<circle cx="536.63" cy="735.63" r="2.8" fill="none" stroke="#ff0000" stroke-width="1.6"/>
<circle cx="539.11" cy="748.02" r="2.8" fill="none" stroke="#ff0000" stroke-width="1.6"/>
<circle cx="542.21" cy="762.47" r="2.8" fill="none" stroke="#ff0000" stroke-width="1.6"/>
<circle cx="544.27" cy="767.64" r="2.8" fill="none" stroke="#ff0000" stroke-width="1.6"/>
<circle cx="546.34" cy="778.99" r="2.8" fill="none" stroke="#ff0000" stroke-width="1.6"/>
<circle cx="549.44" cy="791.38" r="2.8" fill="none" stroke="#ff0000" stroke-width="1.6"/>
<circle cx="552.53" cy="801.71" r="2.8" fill="none" stroke="#ff0000" stroke-width="1.6"/>
<circle cx="556.66" cy="806.87" r="2.8" fill="none" stroke="#ff0000" stroke-width="1.6"/>
<circle cx="561.83" cy="809.96" r="2.8" fill="none" stroke="#ff0000" stroke-width="1.6"/>
<circle cx="564.92" cy="815.13" r="2.8" fill="none" stroke="#ff0000" stroke-width="1.6"/>
<circle cx="511.24" cy="737.7" r="2.8" fill="none" stroke="#ff0000" stroke-width="1.6"/>
<circle cx="509.17" cy="743.89" r="2.8" fill="none" stroke="#ff0000" stroke-width="1.6"/>
<circle cx="514.33" cy="724.27" r="2.8" fill="none" stroke="#ff0000" stroke-width="1.6"/>
<circle cx="563.89" cy="814.09" r="2.8" fill="none" stroke="#ff0000" stroke-width="1.6"/>
<circle cx="621.66" cy="809.72" r="2.8" fill="none" stroke="#ff0000" stroke-width="1.6"/>
<circle cx="619.29" cy="811.29" r="2.8" fill="none" stroke="#ff0000" stroke-width="1.6"/>
<circle cx="623.82" cy="810.31" r="2.8" fill="none" stroke="#ff0000" stroke-width="1.6"/>
<circle cx="618.3" cy="827.07" r="2.8" fill="none" stroke="#ff0000" stroke-width="1.6"/>
<circle cx="625.8" cy="827.46" r="2.8" fill="none" stroke="#ff0000" stroke-width="1.6"/>
<circle cx="616.92" cy="851.12" r="2.8" fill="none" stroke="#ff0000" stroke-width="1.6"/>
<circle cx="627.18" cy="859.01" r="2.8" fill="none" stroke="#ff0000" stroke-width="1.6"/>
<circle cx="614.56" cy="872.41" r="2.8" fill="none" stroke="#ff0000" stroke-width="1.6"/>
<circle cx="629.54" cy="881.09" r="2.8" fill="none" stroke="#ff0000" stroke-width="1.6"/>
<circle cx="631.91" cy="896.47" r="2.8" fill="none" stroke="#ff0000" stroke-width="1.6"/>
<circle cx="610.42" cy="903.37" r="2.8" fill="none" stroke="#ff0000" stroke-width="1.6"/>
<circle cx="606.47" cy="912.24" r="2.8" fill="none" stroke="#ff0000" stroke-width="1.6"/>
<circle cx="633.49" cy="909.28" r="2.8" fill="none" stroke="#ff0000" stroke-width="1.6"/>
<circle cx="635.06" cy="920.52" r="2.8" fill="none" stroke="#ff0000" stroke-width="1.6"/>
<circle cx="636.05" cy="936.88" r="2.8" fill="none" stroke="#ff0000" stroke-width="1.6"/>
<circle cx="640.58" cy="957.59" r="2.8" fill="none" stroke="#ff0000" stroke-width="1.6"/>
<circle cx="647.88" cy="951.67" r="2.8" fill="none" stroke="#ff0000" stroke-width="1.6"/>
<circle cx="648.86" cy="977.3" r="2.8" fill="none" stroke="#ff0000" stroke-width="1.6"/>
<circle cx="658.72" cy="978.29" r="2.8" fill="none" stroke="#ff0000" stroke-width="1.6"/>
<circle cx="654.78" cy="971.39" r="2.8" fill="none" stroke="#ff0000" stroke-width="1.6"/>
<circle cx="591.69" cy="947.73" r="2.8" fill="none" stroke="#ff0000" stroke-width="1.6"/>
<circle cx="584.79" cy="941.81" r="2.8" fill="none" stroke="#ff0000" stroke-width="1.6"/>
<circle cx="587.74" cy="941.81" r="2.8" fill="none" stroke="#ff0000" stroke-width="1.6"/>
<circle cx="595.63" cy="936.88" r="2.8" fill="none" stroke="#ff0000" stroke-width="1.6"/>
<circle cx="609.43" cy="908.3" r="2.8" fill="none" stroke="#ff0000" stroke-width="1.6"/>
<circle cx="604.5" cy="916.18" r="2.8" fill="none" stroke="#ff0000" stroke-width="1.6"/>
<circle cx="637.03" cy="928.01" r="2.8" fill="none" stroke="#ff0000" stroke-width="1.6"/>
<circle cx="641.96" cy="945.76" r="2.8" fill="none" stroke="#ff0000" stroke-width="1.6"/>
<circle cx="651.82" cy="959.56" r="2.8" fill="none" stroke="#ff0000" stroke-width="1.6"/>
<circle cx="656.75" cy="967.44" r="2.8" fill="none" stroke="#ff0000" stroke-width="1.6"/>
<circle cx="507.32" cy="741.05" r="2.8" fill="none" stroke="#ff0000" stroke-width="1.6"/>
<circle cx="509.16" cy="733.18" r="2.8" fill="none" stroke="#ff0000" stroke-width="1.6"/>
<circle cx="513.1" cy="722.69" r="2.8" fill="none" stroke="#ff0000" stroke-width="1.6"/>
<circle cx="515.72" cy="713.5" r="2.8" fill="none" stroke="#ff0000" stroke-width="1.6"/>
<circle cx="517.03" cy="701.7" r="2.8" fill="none" stroke="#ff0000" stroke-width="1.6"/>
<circle cx="519.66" cy="693.82" r="2.8" fill="none" stroke="#ff0000" stroke-width="1.6"/>
<circle cx="520.97" cy="683.33" r="2.8" fill="none" stroke="#ff0000" stroke-width="1.6"/>
<circle cx="522.28" cy="675.46" r="2.8" fill="none" stroke="#ff0000" stroke-width="1.6"/>
<circle cx="523.59" cy="664.96" r="2.8" fill="none" stroke="#ff0000" stroke-width="1.6"/>
<circle cx="490.79" cy="769.92" r="2.8" fill="none" stroke="#ff0000" stroke-width="1.6"/>
<circle cx="493.42" cy="775.17" r="2.8" fill="none" stroke="#ff0000" stroke-width="1.6"/>
<circle cx="492.1" cy="783.04" r="2.8" fill="none" stroke="#ff0000" stroke-width="1.6"/>
<circle cx="494.73" cy="790.91" r="2.8" fill="none" stroke="#ff0000" stroke-width="1.6"/>
<circle cx="499.98" cy="779.1" r="2.8" fill="none" stroke="#ff0000" stroke-width="1.6"/>
<circle cx="502.6" cy="771.23" r="2.8" fill="none" stroke="#ff0000" stroke-width="1.6"/>
<circle cx="506.54" cy="767.29" r="2.8" fill="none" stroke="#ff0000" stroke-width="1.6"/>
<circle cx="510.47" cy="764.67" r="2.8" fill="none" stroke="#ff0000" stroke-width="1.6"/>
<circle cx="513.1" cy="773.85" r="2.8" fill="none" stroke="#ff0000" stroke-width="1.6"/>
<circle cx="515.72" cy="777.79" r="2.8" fill="none" stroke="#ff0000" stroke-width="1.6"/>
<circle cx="518.34" cy="784.35" r="2.8" fill="none" stroke="#ff0000" stroke-width="1.6"/>
<circle cx="520.97" cy="788.29" r="2.8" fill="none" stroke="#ff0000" stroke-width="1.6"/>
<circle cx="520.44" cy="769.92" r="2.8" fill="none" stroke="#ff0000" stroke-width="1.6"/>
<path d="M448.25,781.1 L448.49,780.86 L448.73,780.61 L448.97,780.37 L449.22,780.11 L449.46,779.85 L449.7,779.59 L449.94,779.33 L450.19,779.06 L450.43,778.79 L450.67,778.51 L450.91,778.23 L451.15,777.95 L451.4,777.66 L451.64,777.37 L451.88,777.07 L452.12,776.77 L452.37,776.47 L452.61,776.16 L452.85,775.84 L453.09,775.52 L453.33,775.2 L453.58,774.87 L453.82,774.54 L454.06,774.2 L454.3,773.85 L454.55,773.5 L454.79,773.15 L455.03,772.79 L455.27,772.42 L455.51,772.05 L455.76,771.68 L456,771.29 L456.24,770.9 L456.48,770.51 L456.73,770.11 L456.97,769.7 L457.21,769.28 L457.45,768.86 L457.69,768.43 L457.94,768 L458.18,767.56 L458.42,767.11 L458.66,766.65 L458.91,766.19 L459.15,765.72 L459.39,765.24 L459.63,764.75 L459.87,764.26 L460.12,763.75 L460.36,763.24 L460.6,762.72 L460.84,762.19 L461.09,761.65 L461.33,761.1 L461.57,760.55 L461.81,759.98 L462.05,759.4 L462.3,758.82 L462.54,758.22 L462.78,757.61 L463.02,757 L463.27,756.37 L463.51,755.73 L463.75,755.08 L463.99,754.42 L464.23,753.74 L464.48,753.06 L464.72,752.36 L464.96,751.65 L465.2,750.93 L465.45,750.19 L465.69,749.44 L465.93,748.68 L466.17,747.9 L466.41,747.11 L466.66,746.3 L466.9,745.48 L467.14,744.65 L467.38,743.79 L467.63,742.93 L467.87,742.04 L468.11,741.14 L468.35,740.23 L468.59,739.29 L468.84,738.34 L469.08,737.37 L469.32,736.38 L469.56,735.37 L469.81,734.35 L470.05,733.3 L470.29,732.24 L470.53,731.15 L470.77,730.05 L471.02,728.92 L471.26,727.77 L471.5,726.6 L471.74,725.4 L471.99,724.19 L472.23,722.95 L472.47,721.68 L472.71,720.39 L472.95,719.08 L473.2,717.74 L473.44,716.38 L473.68,714.99 L473.92,713.58 L474.17,712.13 L474.41,710.67 L474.65,709.17 L474.89,707.65 L475.13,706.1 L475.38,704.52 L475.62,702.91 L475.86,701.28 L476.1,699.62 L476.35,697.93 L476.59,696.21 L476.83,694.47 L477.07,692.7 L477.31,690.9 L477.56,689.08 L477.8,687.23 L478.04,685.36 L478.28,683.47 L478.53,681.55 L478.77,679.62 L479.01,677.68 L479.25,675.72 L479.5,673.75 L479.74,671.78 L479.98,669.8 L480.22,667.83 L480.46,665.86 L480.71,663.91 L480.95,661.98 L481.19,660.08 L481.43,658.22 L481.68,656.4 L481.92,654.63 L482.16,652.93 L482.4,651.31 L482.64,649.77 L482.89,648.33 L483.13,646.99 L483.37,645.78 L483.61,644.71 L483.86,643.77 L484.1,642.99 L484.34,642.37 L484.58,641.91 L484.82,641.63 L485.07,641.53 L485.31,641.61 L485.55,641.87 L485.79,642.31 L486.04,642.92 L486.28,643.69 L486.52,644.63 L486.76,645.71 L487,646.94 L487.25,648.29 L487.49,649.76 L487.73,651.34 L487.97,653.02 L488.22,654.78 L488.46,656.61 L488.7,658.5 L488.94,660.44 L489.18,662.43 L489.43,664.45 L489.67,666.5 L489.91,668.56 L490.15,670.64 L490.4,672.72 L490.64,674.81 L490.88,676.89 L491.12,678.96 L491.36,681.02 L491.61,683.07 L491.85,685.1 L492.09,687.11 L492.33,689.1 L492.58,691.06 L492.82,693 L493.06,694.92 L493.3,696.8 L493.54,698.66 L493.79,700.49 L494.03,702.3 L494.27,704.07 L494.51,705.81 L494.76,707.53 L495,709.22 L495.24,710.87 L495.48,712.5 L495.72,714.1 L495.97,715.67 L496.21,717.21 L496.45,718.72 L496.69,720.21 L496.94,721.66 L497.18,723.09 L497.42,724.5 L497.66,725.88 L497.9,727.23 L498.15,728.55 L498.39,729.85 L498.63,731.13 L498.87,732.38 L499.12,733.61 L499.36,734.81 L499.6,736 L499.84,737.15 L500.08,738.29 L500.33,739.41 L500.57,740.5 L500.81,741.58 L501.05,742.63 L501.3,743.66 L501.54,744.67 L501.78,745.67 L502.02,746.64 L502.26,747.6 L502.51,748.54 L502.75,749.46 L502.99,750.36 L503.23,751.25 L503.48,752.12 L503.72,752.98 L503.96,753.81 L504.2,754.64 L504.44,755.44 L504.69,756.23 L504.93,757.01 L505.17,757.77 L505.41,758.52 L505.66,759.26 L505.9,759.98 L506.14,760.69 L506.38,761.38" fill="none" stroke="#ff0000" stroke-width="2.9" stroke-linejoin="round"/>
<path d="M490.15,812.87 L490.46,812.3 L490.77,811.73 L491.08,811.15 L491.4,810.56 L491.71,809.96 L492.02,809.36 L492.33,808.74 L492.64,808.12 L492.95,807.49 L493.26,806.85 L493.58,806.21 L493.89,805.55 L494.2,804.89 L494.51,804.21 L494.82,803.53 L495.13,802.84 L495.44,802.13 L495.76,801.42 L496.07,800.7 L496.38,799.96 L496.69,799.22 L497,798.47 L497.31,797.7 L497.62,796.92 L497.94,796.14 L498.25,795.34 L498.56,794.53 L498.87,793.7 L499.18,792.87 L499.49,792.02 L499.8,791.16 L500.12,790.29 L500.43,789.4 L500.74,788.5 L501.05,787.59 L501.36,786.66 L501.67,785.72 L501.98,784.77 L502.3,783.8 L502.61,782.81 L502.92,781.81 L503.23,780.79 L503.54,779.76 L503.85,778.71 L504.16,777.64 L504.48,776.56 L504.79,775.46 L505.1,774.34 L505.41,773.2 L505.72,772.04 L506.03,770.87 L506.34,769.67 L506.66,768.46 L506.97,767.22 L507.28,765.96 L507.59,764.69 L507.9,763.39 L508.21,762.07 L508.52,760.72 L508.84,759.35 L509.15,757.96 L509.46,756.55 L509.77,755.11 L510.08,753.64 L510.39,752.15 L510.7,750.63 L511.02,749.08 L511.33,747.51 L511.64,745.91 L511.95,744.28 L512.26,742.62 L512.57,740.93 L512.88,739.21 L513.2,737.46 L513.51,735.68 L513.82,733.86 L514.13,732.01 L514.44,730.13 L514.75,728.22 L515.07,726.27 L515.38,724.29 L515.69,722.27 L516,720.22 L516.31,718.14 L516.62,716.02 L516.93,713.87 L517.25,711.68 L517.56,709.46 L517.87,707.21 L518.18,704.92 L518.49,702.61 L518.8,700.27 L519.11,697.91 L519.43,695.52 L519.74,693.11 L520.05,690.7 L520.36,688.27 L520.67,685.84 L520.98,683.41 L521.29,680.99 L521.61,678.6 L521.92,676.23 L522.23,673.91 L522.54,671.64 L522.85,669.44 L523.16,667.32 L523.47,665.31 L523.79,663.41 L524.1,661.65 L524.41,660.05 L524.72,658.62 L525.03,657.38 L525.34,656.35 L525.65,655.54 L525.97,654.96 L526.28,654.64 L526.59,654.56 L526.9,654.73 L527.21,655.15 L527.52,655.82 L527.83,656.73 L528.15,657.86 L528.46,659.2 L528.77,660.73 L529.08,662.44 L529.39,664.31 L529.7,666.31 L530.01,668.44 L530.33,670.67 L530.64,672.99 L530.95,675.38 L531.26,677.82 L531.57,680.31 L531.88,682.83 L532.19,685.37 L532.51,687.93 L532.82,690.48 L533.13,693.04 L533.44,695.58 L533.75,698.12 L534.06,700.63 L534.37,703.12 L534.69,705.59 L535,708.03 L535.31,710.44 L535.62,712.82 L535.93,715.16 L536.24,717.48 L536.55,719.75 L536.87,722 L537.18,724.2 L537.49,726.38 L537.8,728.52 L538.11,730.62 L538.42,732.69 L538.73,734.72 L539.05,736.72 L539.36,738.68 L539.67,740.61 L539.98,742.51 L540.29,744.38 L540.6,746.21 L540.91,748.01 L541.23,749.78 L541.54,751.52 L541.85,753.24 L542.16,754.92 L542.47,756.57 L542.78,758.2 L543.09,759.79 L543.41,761.36 L543.72,762.91 L544.03,764.43 L544.34,765.92 L544.65,767.39 L544.96,768.83 L545.27,770.25 L545.59,771.65 L545.9,773.02 L546.21,774.37 L546.52,775.7 L546.83,777.01 L547.14,778.29 L547.45,779.56 L547.77,780.8 L548.08,782.03 L548.39,783.24 L548.7,784.42 L549.01,785.59 L549.32,786.74 L549.63,787.87 L549.95,788.99 L550.26,790.09 L550.57,791.17 L550.88,792.23 L551.19,793.28 L551.5,794.31 L551.81,795.33 L552.13,796.33 L552.44,797.31 L552.75,798.28 L553.06,799.24 L553.37,800.18 L553.68,801.11 L553.99,802.03 L554.31,802.93 L554.62,803.81 L554.93,804.69 L555.24,805.55 L555.55,806.4 L555.86,807.24 L556.17,808.06 L556.49,808.88 L556.8,809.68 L557.11,810.47 L557.42,811.25 L557.73,812.01 L558.04,812.77 L558.35,813.52 L558.67,814.25 L558.98,814.98 L559.29,815.69 L559.6,816.4 L559.91,817.09 L560.22,817.78 L560.53,818.45 L560.85,819.12 L561.16,819.78 L561.47,820.43 L561.78,821.06 L562.09,821.7 L562.4,822.32 L562.71,822.93 L563.03,823.54 L563.34,824.13 L563.65,824.72 L563.96,825.3 L564.27,825.88 L564.58,826.44 L564.89,827" fill="none" stroke="#ff0000" stroke-width="2.9" stroke-linejoin="round"/>
<path d="M584.15,969.79 L584.46,969.54 L584.78,969.29 L585.09,969.02 L585.41,968.76 L585.72,968.49 L586.03,968.21 L586.35,967.93 L586.66,967.64 L586.98,967.35 L587.29,967.05 L587.61,966.74 L587.92,966.43 L588.24,966.11 L588.55,965.78 L588.87,965.45 L589.18,965.11 L589.5,964.76 L589.81,964.41 L590.12,964.05 L590.44,963.68 L590.75,963.3 L591.07,962.91 L591.38,962.51 L591.7,962.11 L592.01,961.7 L592.33,961.27 L592.64,960.84 L592.96,960.4 L593.27,959.95 L593.59,959.48 L593.9,959.01 L594.21,958.53 L594.53,958.03 L594.84,957.52 L595.16,957 L595.47,956.47 L595.79,955.92 L596.1,955.36 L596.42,954.79 L596.73,954.21 L597.05,953.61 L597.36,952.99 L597.67,952.36 L597.99,951.71 L598.3,951.05 L598.62,950.37 L598.93,949.67 L599.25,948.95 L599.56,948.22 L599.88,947.47 L600.19,946.69 L600.51,945.9 L600.82,945.09 L601.13,944.25 L601.45,943.39 L601.76,942.51 L602.08,941.6 L602.39,940.67 L602.71,939.72 L603.02,938.73 L603.34,937.72 L603.65,936.68 L603.97,935.62 L604.28,934.52 L604.6,933.39 L604.91,932.23 L605.22,931.03 L605.54,929.8 L605.85,928.54 L606.17,927.24 L606.48,925.9 L606.8,924.51 L607.11,923.09 L607.43,921.63 L607.74,920.12 L608.06,918.56 L608.37,916.96 L608.68,915.31 L609,913.61 L609.31,911.85 L609.63,910.04 L609.94,908.18 L610.26,906.25 L610.57,904.27 L610.89,902.22 L611.2,900.11 L611.52,897.92 L611.83,895.68 L612.15,893.35 L612.46,890.96 L612.77,888.49 L613.09,885.94 L613.4,883.31 L613.72,880.6 L614.03,877.8 L614.35,874.93 L614.66,871.96 L614.98,868.91 L615.29,865.77 L615.61,862.55 L615.92,859.25 L616.24,855.87 L616.55,852.42 L616.86,848.91 L617.18,845.35 L617.49,841.75 L617.81,838.13 L618.12,834.52 L618.44,830.95 L618.75,827.45 L619.07,824.06 L619.38,820.84 L619.7,817.85 L620.01,815.13 L620.32,812.77 L620.64,810.81 L620.95,809.32 L621.27,808.35 L621.58,807.94 L621.9,808.09 L622.21,808.8 L622.53,810.06 L622.84,811.81 L623.16,814.02 L623.47,816.61 L623.78,819.52 L624.1,822.7 L624.41,826.07 L624.73,829.6 L625.04,833.22 L625.36,836.9 L625.67,840.6 L625.99,844.3 L626.3,847.97 L626.62,851.6 L626.93,855.17 L627.25,858.68 L627.56,862.11 L627.87,865.46 L628.19,868.72 L628.5,871.9 L628.82,874.99 L629.13,878 L629.45,880.92 L629.76,883.75 L630.08,886.5 L630.39,889.16 L630.71,891.75 L631.02,894.25 L631.34,896.68 L631.65,899.03 L631.96,901.31 L632.28,903.52 L632.59,905.66 L632.91,907.74 L633.22,909.75 L633.54,911.7 L633.85,913.59 L634.17,915.43 L634.48,917.2 L634.8,918.93 L635.11,920.6 L635.42,922.22 L635.74,923.8 L636.05,925.32 L636.37,926.8 L636.68,928.24 L637,929.64 L637.31,930.99 L637.63,932.31 L637.94,933.59 L638.26,934.83 L638.57,936.03 L638.88,937.2 L639.2,938.34 L639.51,939.45 L639.83,940.52 L640.14,941.57 L640.46,942.58 L640.77,943.57 L641.09,944.53 L641.4,945.46 L641.72,946.37 L642.03,947.26 L642.35,948.12 L642.66,948.95 L642.97,949.77 L643.29,950.56 L643.6,951.33 L643.92,952.08 L644.23,952.81 L644.55,953.53 L644.86,954.22 L645.18,954.9 L645.49,955.56 L645.81,956.2 L646.12,956.82 L646.43,957.43 L646.75,958.03 L647.06,958.61 L647.38,959.17 L647.69,959.73 L648.01,960.26 L648.32,960.79 L648.64,961.3 L648.95,961.8 L649.27,962.29 L649.58,962.76 L649.9,963.23 L650.21,963.68 L650.52,964.12 L650.84,964.55 L651.15,964.98 L651.47,965.39 L651.78,965.79 L652.1,966.18 L652.41,966.57 L652.73,966.94 L653.04,967.31 L653.36,967.67 L653.67,968.02 L653.99,968.36 L654.3,968.7 L654.61,969.03 L654.93,969.35 L655.24,969.66 L655.56,969.97 L655.87,970.27 L656.19,970.56 L656.5,970.85 L656.82,971.13 L657.13,971.41 L657.45,971.68 L657.76,971.94 L658.07,972.2 L658.39,972.45 L658.7,972.7 L659.02,972.94 L659.33,973.18 L659.65,973.41" fill="none" stroke="#ff0000" stroke-width="2.9" stroke-linejoin="round"/>
<circle cx="473.45" cy="667.08" r="2.8" fill="none" stroke="#0000ff" stroke-width="1.6"/>
<circle cx="475.1" cy="684.42" r="2.8" fill="none" stroke="#0000ff" stroke-width="1.6"/>
<circle cx="487.9" cy="681.53" r="2.8" fill="none" stroke="#0000ff" stroke-width="1.6"/>
<circle cx="487.08" cy="705.07" r="2.8" fill="none" stroke="#0000ff" stroke-width="1.6"/>
<circle cx="484.39" cy="710.85" r="2.8" fill="none" stroke="#0000ff" stroke-width="1.6"/>
<circle cx="489.14" cy="709.2" r="2.8" fill="none" stroke="#0000ff" stroke-width="1.6"/>
<circle cx="491.62" cy="717.05" r="2.8" fill="none" stroke="#0000ff" stroke-width="1.6"/>
<circle cx="492.65" cy="725.31" r="2.8" fill="none" stroke="#0000ff" stroke-width="1.6"/>
<circle cx="483.36" cy="736.66" r="2.8" fill="none" stroke="#0000ff" stroke-width="1.6"/>
<circle cx="481.3" cy="739.35" r="2.8" fill="none" stroke="#0000ff" stroke-width="1.6"/>
<circle cx="477.17" cy="743.89" r="2.8" fill="none" stroke="#0000ff" stroke-width="1.6"/>
<circle cx="479.64" cy="756.69" r="2.8" fill="none" stroke="#0000ff" stroke-width="1.6"/>
<circle cx="472" cy="774.45" r="2.8" fill="none" stroke="#0000ff" stroke-width="1.6"/>
<circle cx="470.56" cy="788.28" r="2.8" fill="none" stroke="#0000ff" stroke-width="1.6"/>
<circle cx="467.26" cy="785.19" r="2.8" fill="none" stroke="#0000ff" stroke-width="1.6"/>
<circle cx="464.37" cy="785.19" r="2.8" fill="none" stroke="#0000ff" stroke-width="1.6"/>
<circle cx="460.65" cy="780.02" r="2.8" fill="none" stroke="#0000ff" stroke-width="1.6"/>
<circle cx="461.68" cy="791.38" r="2.8" fill="none" stroke="#0000ff" stroke-width="1.6"/>
<circle cx="456.93" cy="796.54" r="2.8" fill="none" stroke="#0000ff" stroke-width="1.6"/>
<circle cx="454.87" cy="791.38" r="2.8" fill="none" stroke="#0000ff" stroke-width="1.6"/>
<circle cx="451.36" cy="788.28" r="2.8" fill="none" stroke="#0000ff" stroke-width="1.6"/>
<circle cx="449.29" cy="797.58" r="2.8" fill="none" stroke="#0000ff" stroke-width="1.6"/>
<circle cx="453.42" cy="800.67" r="2.8" fill="none" stroke="#0000ff" stroke-width="1.6"/>
<circle cx="458.17" cy="799.64" r="2.8" fill="none" stroke="#0000ff" stroke-width="1.6"/>
<circle cx="495.75" cy="748.02" r="2.8" fill="none" stroke="#0000ff" stroke-width="1.6"/>
<circle cx="498.23" cy="757.31" r="2.8" fill="none" stroke="#0000ff" stroke-width="1.6"/>
<circle cx="500.91" cy="762.47" r="2.8" fill="none" stroke="#0000ff" stroke-width="1.6"/>
<circle cx="490.59" cy="769.7" r="2.8" fill="none" stroke="#0000ff" stroke-width="1.6"/>
<circle cx="493.69" cy="772.8" r="2.8" fill="none" stroke="#0000ff" stroke-width="1.6"/>
<circle cx="496.78" cy="768.67" r="2.8" fill="none" stroke="#0000ff" stroke-width="1.6"/>
<circle cx="501.95" cy="778.99" r="2.8" fill="none" stroke="#0000ff" stroke-width="1.6"/>
<circle cx="506.07" cy="789.32" r="2.8" fill="none" stroke="#0000ff" stroke-width="1.6"/>
<circle cx="509.79" cy="795.51" r="2.8" fill="none" stroke="#0000ff" stroke-width="1.6"/>
<circle cx="513.3" cy="802.74" r="2.8" fill="none" stroke="#0000ff" stroke-width="1.6"/>
<circle cx="515.37" cy="814.09" r="2.8" fill="none" stroke="#0000ff" stroke-width="1.6"/>
<circle cx="519.5" cy="816.16" r="2.8" fill="none" stroke="#0000ff" stroke-width="1.6"/>
<circle cx="522.59" cy="819.26" r="2.8" fill="none" stroke="#0000ff" stroke-width="1.6"/>
<circle cx="514.75" cy="821.94" r="2.8" fill="none" stroke="#0000ff" stroke-width="1.6"/>
<circle cx="518.05" cy="819.26" r="2.8" fill="none" stroke="#0000ff" stroke-width="1.6"/>
<circle cx="523.63" cy="704.66" r="2.8" fill="none" stroke="#0000ff" stroke-width="1.6"/>
<circle cx="521.56" cy="710.85" r="2.8" fill="none" stroke="#0000ff" stroke-width="1.6"/>
<circle cx="524.66" cy="717.05" r="2.8" fill="none" stroke="#0000ff" stroke-width="1.6"/>
<circle cx="528.79" cy="709.2" r="2.8" fill="none" stroke="#0000ff" stroke-width="1.6"/>
<circle cx="517.43" cy="727.37" r="2.8" fill="none" stroke="#0000ff" stroke-width="1.6"/>
<circle cx="512.27" cy="729.44" r="2.8" fill="none" stroke="#0000ff" stroke-width="1.6"/>
<circle cx="510.2" cy="742.86" r="2.8" fill="none" stroke="#0000ff" stroke-width="1.6"/>
<circle cx="509.17" cy="750.08" r="2.8" fill="none" stroke="#0000ff" stroke-width="1.6"/>
<circle cx="529.82" cy="734.6" r="2.8" fill="none" stroke="#0000ff" stroke-width="1.6"/>
<circle cx="531.89" cy="743.89" r="2.8" fill="none" stroke="#0000ff" stroke-width="1.6"/>
<circle cx="533.95" cy="752.15" r="2.8" fill="none" stroke="#0000ff" stroke-width="1.6"/>
<circle cx="535.4" cy="762.47" r="2.8" fill="none" stroke="#0000ff" stroke-width="1.6"/>
<circle cx="537.05" cy="777.96" r="2.8" fill="none" stroke="#0000ff" stroke-width="1.6"/>
<circle cx="539.11" cy="782.09" r="2.8" fill="none" stroke="#0000ff" stroke-width="1.6"/>
<circle cx="543.24" cy="790.35" r="2.8" fill="none" stroke="#0000ff" stroke-width="1.6"/>
<circle cx="547.37" cy="797.58" r="2.8" fill="none" stroke="#0000ff" stroke-width="1.6"/>
<circle cx="549.44" cy="805.84" r="2.8" fill="none" stroke="#0000ff" stroke-width="1.6"/>
<circle cx="554.6" cy="790.35" r="2.8" fill="none" stroke="#0000ff" stroke-width="1.6"/>
<circle cx="558.73" cy="801.71" r="2.8" fill="none" stroke="#0000ff" stroke-width="1.6"/>
<circle cx="560.79" cy="809.96" r="2.8" fill="none" stroke="#0000ff" stroke-width="1.6"/>
<circle cx="563.89" cy="807.9" r="2.8" fill="none" stroke="#0000ff" stroke-width="1.6"/>
<circle cx="561.83" cy="813.06" r="2.8" fill="none" stroke="#0000ff" stroke-width="1.6"/>
<circle cx="612.98" cy="843.63" r="2.8" fill="none" stroke="#0000ff" stroke-width="1.6"/>
<circle cx="621.66" cy="859.4" r="2.8" fill="none" stroke="#0000ff" stroke-width="1.6"/>
<circle cx="620.28" cy="864.92" r="2.8" fill="none" stroke="#0000ff" stroke-width="1.6"/>
<circle cx="622.25" cy="868.86" r="2.8" fill="none" stroke="#0000ff" stroke-width="1.6"/>
<circle cx="617.32" cy="878.72" r="2.8" fill="none" stroke="#0000ff" stroke-width="1.6"/>
<circle cx="615.35" cy="888.58" r="2.8" fill="none" stroke="#0000ff" stroke-width="1.6"/>
<circle cx="612.39" cy="907.31" r="2.8" fill="none" stroke="#0000ff" stroke-width="1.6"/>
<circle cx="610.42" cy="921.11" r="2.8" fill="none" stroke="#0000ff" stroke-width="1.6"/>
<circle cx="607.46" cy="926.04" r="2.8" fill="none" stroke="#0000ff" stroke-width="1.6"/>
<circle cx="603.52" cy="921.11" r="2.8" fill="none" stroke="#0000ff" stroke-width="1.6"/>
<circle cx="598.59" cy="926.04" r="2.8" fill="none" stroke="#0000ff" stroke-width="1.6"/>
<circle cx="592.67" cy="930.97" r="2.8" fill="none" stroke="#0000ff" stroke-width="1.6"/>
<circle cx="594.65" cy="936.88" r="2.8" fill="none" stroke="#0000ff" stroke-width="1.6"/>
<circle cx="589.72" cy="946.74" r="2.8" fill="none" stroke="#0000ff" stroke-width="1.6"/>
<circle cx="584.79" cy="942.8" r="2.8" fill="none" stroke="#0000ff" stroke-width="1.6"/>
<circle cx="627.18" cy="904.35" r="2.8" fill="none" stroke="#0000ff" stroke-width="1.6"/>
<circle cx="629.15" cy="915.2" r="2.8" fill="none" stroke="#0000ff" stroke-width="1.6"/>
<circle cx="633.09" cy="928.01" r="2.8" fill="none" stroke="#0000ff" stroke-width="1.6"/>
<circle cx="638.02" cy="930.97" r="2.8" fill="none" stroke="#0000ff" stroke-width="1.6"/>
<circle cx="639.01" cy="945.76" r="2.8" fill="none" stroke="#0000ff" stroke-width="1.6"/>
<circle cx="642.95" cy="945.76" r="2.8" fill="none" stroke="#0000ff" stroke-width="1.6"/>
<circle cx="646.89" cy="963.5" r="2.8" fill="none" stroke="#0000ff" stroke-width="1.6"/>
<circle cx="650.84" cy="952.66" r="2.8" fill="none" stroke="#0000ff" stroke-width="1.6"/>
<circle cx="654.78" cy="958.57" r="2.8" fill="none" stroke="#0000ff" stroke-width="1.6"/>
<circle cx="658.72" cy="968.43" r="2.8" fill="none" stroke="#0000ff" stroke-width="1.6"/>
<circle cx="640.98" cy="955.62" r="2.8" fill="none" stroke="#0000ff" stroke-width="1.6"/>
<circle cx="601.55" cy="928.01" r="2.8" fill="none" stroke="#0000ff" stroke-width="1.6"/>
<circle cx="606.47" cy="924.07" r="2.8" fill="none" stroke="#0000ff" stroke-width="1.6"/>
<circle cx="582.82" cy="941.81" r="2.8" fill="none" stroke="#0000ff" stroke-width="1.6"/>
<circle cx="586.76" cy="943.79" r="2.8" fill="none" stroke="#0000ff" stroke-width="1.6"/>
<circle cx="489.48" cy="706.94" r="2.8" fill="none" stroke="#0000ff" stroke-width="1.6"/>
<circle cx="490.79" cy="716.13" r="2.8" fill="none" stroke="#0000ff" stroke-width="1.6"/>
<circle cx="493.42" cy="722.69" r="2.8" fill="none" stroke="#0000ff" stroke-width="1.6"/>
<circle cx="495.25" cy="731.87" r="2.8" fill="none" stroke="#0000ff" stroke-width="1.6"/>
<circle cx="497.88" cy="743.68" r="2.8" fill="none" stroke="#0000ff" stroke-width="1.6"/>
<circle cx="499.98" cy="754.17" r="2.8" fill="none" stroke="#0000ff" stroke-width="1.6"/>
<circle cx="502.07" cy="762.05" r="2.8" fill="none" stroke="#0000ff" stroke-width="1.6"/>
<circle cx="503.12" cy="769.92" r="2.8" fill="none" stroke="#0000ff" stroke-width="1.6"/>
<circle cx="505.22" cy="777.79" r="2.8" fill="none" stroke="#0000ff" stroke-width="1.6"/>
<circle cx="507.32" cy="784.35" r="2.8" fill="none" stroke="#0000ff" stroke-width="1.6"/>
<circle cx="510.47" cy="790.91" r="2.8" fill="none" stroke="#0000ff" stroke-width="1.6"/>
<circle cx="513.1" cy="797.47" r="2.8" fill="none" stroke="#0000ff" stroke-width="1.6"/>
<circle cx="515.72" cy="805.34" r="2.8" fill="none" stroke="#0000ff" stroke-width="1.6"/>
<circle cx="517.03" cy="811.9" r="2.8" fill="none" stroke="#0000ff" stroke-width="1.6"/>
<circle cx="520.97" cy="819.77" r="2.8" fill="none" stroke="#0000ff" stroke-width="1.6"/>
<circle cx="514.41" cy="819.77" r="2.8" fill="none" stroke="#0000ff" stroke-width="1.6"/>
<circle cx="523.59" cy="818.46" r="2.8" fill="none" stroke="#0000ff" stroke-width="1.6"/>
<circle cx="506.54" cy="741.05" r="2.8" fill="none" stroke="#0000ff" stroke-width="1.6"/>
<circle cx="507.85" cy="733.18" r="2.8" fill="none" stroke="#0000ff" stroke-width="1.6"/>
<circle cx="510.47" cy="727.93" r="2.8" fill="none" stroke="#0000ff" stroke-width="1.6"/>
<circle cx="513.1" cy="720.06" r="2.8" fill="none" stroke="#0000ff" stroke-width="1.6"/>
<circle cx="515.72" cy="714.82" r="2.8" fill="none" stroke="#0000ff" stroke-width="1.6"/>
<circle cx="518.34" cy="709.57" r="2.8" fill="none" stroke="#0000ff" stroke-width="1.6"/>
<circle cx="520.44" cy="705.63" r="2.8" fill="none" stroke="#0000ff" stroke-width="1.6"/>
<circle cx="509.16" cy="748.93" r="2.8" fill="none" stroke="#0000ff" stroke-width="1.6"/>
<circle cx="505.75" cy="756.8" r="2.8" fill="none" stroke="#0000ff" stroke-width="1.6"/>
<path d="M448.25,819.35 L448.49,819.02 L448.73,818.68 L448.97,818.34 L449.22,817.99 L449.46,817.64 L449.7,817.29 L449.94,816.93 L450.19,816.57 L450.43,816.21 L450.67,815.84 L450.91,815.47 L451.15,815.09 L451.4,814.71 L451.64,814.33 L451.88,813.94 L452.12,813.55 L452.37,813.15 L452.61,812.75 L452.85,812.34 L453.09,811.93 L453.33,811.51 L453.58,811.09 L453.82,810.67 L454.06,810.24 L454.3,809.81 L454.55,809.37 L454.79,808.92 L455.03,808.47 L455.27,808.02 L455.51,807.56 L455.76,807.1 L456,806.63 L456.24,806.15 L456.48,805.67 L456.73,805.19 L456.97,804.7 L457.21,804.2 L457.45,803.7 L457.69,803.19 L457.94,802.67 L458.18,802.15 L458.42,801.63 L458.66,801.1 L458.91,800.56 L459.15,800.01 L459.39,799.46 L459.63,798.9 L459.87,798.34 L460.12,797.77 L460.36,797.19 L460.6,796.61 L460.84,796.02 L461.09,795.42 L461.33,794.81 L461.57,794.2 L461.81,793.58 L462.05,792.95 L462.3,792.32 L462.54,791.68 L462.78,791.03 L463.02,790.37 L463.27,789.71 L463.51,789.03 L463.75,788.35 L463.99,787.66 L464.23,786.97 L464.48,786.26 L464.72,785.55 L464.96,784.83 L465.2,784.1 L465.45,783.36 L465.69,782.61 L465.93,781.85 L466.17,781.08 L466.41,780.31 L466.66,779.52 L466.9,778.73 L467.14,777.93 L467.38,777.11 L467.63,776.29 L467.87,775.46 L468.11,774.62 L468.35,773.77 L468.59,772.91 L468.84,772.03 L469.08,771.15 L469.32,770.26 L469.56,769.36 L469.81,768.45 L470.05,767.53 L470.29,766.59 L470.53,765.65 L470.77,764.7 L471.02,763.74 L471.26,762.76 L471.5,761.78 L471.74,760.78 L471.99,759.78 L472.23,758.76 L472.47,757.74 L472.71,756.7 L472.95,755.66 L473.2,754.6 L473.44,753.53 L473.68,752.46 L473.92,751.37 L474.17,750.28 L474.41,749.18 L474.65,748.06 L474.89,746.94 L475.13,745.81 L475.38,744.68 L475.62,743.53 L475.86,742.38 L476.1,741.23 L476.35,740.06 L476.59,738.89 L476.83,737.72 L477.07,736.55 L477.31,735.37 L477.56,734.18 L477.8,733 L478.04,731.82 L478.28,730.63 L478.53,729.45 L478.77,728.28 L479.01,727.11 L479.25,725.94 L479.5,724.78 L479.74,723.63 L479.98,722.49 L480.22,721.37 L480.46,720.26 L480.71,719.17 L480.95,718.09 L481.19,717.04 L481.43,716.01 L481.68,715.01 L481.92,714.03 L482.16,713.09 L482.4,712.18 L482.64,711.31 L482.89,710.47 L483.13,709.68 L483.37,708.93 L483.61,708.23 L483.86,707.58 L484.1,706.98 L484.34,706.43 L484.58,705.94 L484.82,705.51 L485.07,705.14 L485.31,704.83 L485.55,704.59 L485.79,704.41 L486.04,704.3 L486.28,704.25 L486.52,704.27 L486.76,704.36 L487,704.51 L487.25,704.73 L487.49,705.02 L487.73,705.37 L487.97,705.79 L488.22,706.27 L488.46,706.81 L488.7,707.41 L488.94,708.06 L489.18,708.77 L489.43,709.53 L489.67,710.34 L489.91,711.2 L490.15,712.1 L490.4,713.05 L490.64,714.03 L490.88,715.05 L491.12,716.1 L491.36,717.19 L491.61,718.3 L491.85,719.44 L492.09,720.6 L492.33,721.79 L492.58,722.99 L492.82,724.21 L493.06,725.45 L493.3,726.69 L493.54,727.95 L493.79,729.22 L494.03,730.49 L494.27,731.77 L494.51,733.06 L494.76,734.35 L495,735.64 L495.24,736.93 L495.48,738.22 L495.72,739.5 L495.97,740.79 L496.21,742.07 L496.45,743.35 L496.69,744.62 L496.94,745.89 L497.18,747.15 L497.42,748.4 L497.66,749.64 L497.9,750.88 L498.15,752.11 L498.39,753.33 L498.63,754.54 L498.87,755.74 L499.12,756.93 L499.36,758.11 L499.6,759.28 L499.84,760.44 L500.08,761.59 L500.33,762.73 L500.57,763.86 L500.81,764.97 L501.05,766.08 L501.3,767.18 L501.54,768.26 L501.78,769.33 L502.02,770.39 L502.26,771.44 L502.51,772.48 L502.75,773.51 L502.99,774.52 L503.23,775.53 L503.48,776.52 L503.72,777.5 L503.96,778.47 L504.2,779.43 L504.44,780.38 L504.69,781.32 L504.93,782.25 L505.17,783.16 L505.41,784.07 L505.66,784.97 L505.9,785.85 L506.14,786.73 L506.38,787.59" fill="none" stroke="#0000ff" stroke-width="2.9" stroke-linejoin="round"/>
<path d="M490.15,808.13 L490.46,807.49 L490.77,806.85 L491.08,806.2 L491.4,805.54 L491.71,804.87 L492.02,804.2 L492.33,803.52 L492.64,802.83 L492.95,802.13 L493.26,801.42 L493.58,800.7 L493.89,799.98 L494.2,799.24 L494.51,798.5 L494.82,797.74 L495.13,796.98 L495.44,796.21 L495.76,795.43 L496.07,794.64 L496.38,793.84 L496.69,793.03 L497,792.21 L497.31,791.37 L497.62,790.53 L497.94,789.68 L498.25,788.82 L498.56,787.94 L498.87,787.06 L499.18,786.16 L499.49,785.26 L499.8,784.34 L500.12,783.41 L500.43,782.47 L500.74,781.51 L501.05,780.55 L501.36,779.57 L501.67,778.58 L501.98,777.58 L502.3,776.56 L502.61,775.54 L502.92,774.5 L503.23,773.45 L503.54,772.38 L503.85,771.3 L504.16,770.21 L504.48,769.11 L504.79,767.99 L505.1,766.86 L505.41,765.72 L505.72,764.56 L506.03,763.39 L506.34,762.21 L506.66,761.01 L506.97,759.8 L507.28,758.58 L507.59,757.35 L507.9,756.1 L508.21,754.84 L508.52,753.57 L508.84,752.29 L509.15,750.99 L509.46,749.68 L509.77,748.36 L510.08,747.04 L510.39,745.7 L510.7,744.35 L511.02,742.99 L511.33,741.63 L511.64,740.26 L511.95,738.88 L512.26,737.5 L512.57,736.11 L512.88,734.73 L513.2,733.34 L513.51,731.95 L513.82,730.56 L514.13,729.18 L514.44,727.8 L514.75,726.43 L515.07,725.07 L515.38,723.72 L515.69,722.38 L516,721.07 L516.31,719.77 L516.62,718.5 L516.93,717.26 L517.25,716.05 L517.56,714.87 L517.87,713.73 L518.18,712.63 L518.49,711.57 L518.8,710.57 L519.11,709.62 L519.43,708.72 L519.74,707.89 L520.05,707.13 L520.36,706.43 L520.67,705.8 L520.98,705.26 L521.29,704.79 L521.61,704.4 L521.92,704.09 L522.23,703.88 L522.54,703.75 L522.85,703.71 L523.16,703.75 L523.47,703.9 L523.79,704.16 L524.1,704.55 L524.41,705.07 L524.72,705.7 L525.03,706.45 L525.34,707.31 L525.65,708.28 L525.97,709.34 L526.28,710.49 L526.59,711.73 L526.9,713.04 L527.21,714.42 L527.52,715.86 L527.83,717.36 L528.15,718.91 L528.46,720.49 L528.77,722.11 L529.08,723.76 L529.39,725.44 L529.7,727.13 L530.01,728.83 L530.33,730.55 L530.64,732.27 L530.95,733.99 L531.26,735.71 L531.57,737.43 L531.88,739.13 L532.19,740.83 L532.51,742.52 L532.82,744.19 L533.13,745.85 L533.44,747.49 L533.75,749.12 L534.06,750.72 L534.37,752.31 L534.69,753.87 L535,755.41 L535.31,756.93 L535.62,758.43 L535.93,759.91 L536.24,761.36 L536.55,762.79 L536.87,764.2 L537.18,765.59 L537.49,766.95 L537.8,768.29 L538.11,769.6 L538.42,770.89 L538.73,772.16 L539.05,773.41 L539.36,774.64 L539.67,775.84 L539.98,777.02 L540.29,778.18 L540.6,779.32 L540.91,780.43 L541.23,781.53 L541.54,782.6 L541.85,783.66 L542.16,784.7 L542.47,785.71 L542.78,786.71 L543.09,787.69 L543.41,788.65 L543.72,789.59 L544.03,790.51 L544.34,791.42 L544.65,792.31 L544.96,793.18 L545.27,794.04 L545.59,794.87 L545.9,795.7 L546.21,796.51 L546.52,797.3 L546.83,798.07 L547.14,798.84 L547.45,799.59 L547.77,800.32 L548.08,801.04 L548.39,801.74 L548.7,802.44 L549.01,803.12 L549.32,803.78 L549.63,804.44 L549.95,805.08 L550.26,805.71 L550.57,806.33 L550.88,806.94 L551.19,807.53 L551.5,808.12 L551.81,808.69 L552.13,809.25 L552.44,809.8 L552.75,810.35 L553.06,810.88 L553.37,811.4 L553.68,811.91 L553.99,812.42 L554.31,812.91 L554.62,813.4 L554.93,813.87 L555.24,814.34 L555.55,814.8 L555.86,815.25 L556.17,815.7 L556.49,816.13 L556.8,816.56 L557.11,816.98 L557.42,817.39 L557.73,817.79 L558.04,818.19 L558.35,818.58 L558.67,818.97 L558.98,819.34 L559.29,819.71 L559.6,820.08 L559.91,820.44 L560.22,820.79 L560.53,821.13 L560.85,821.47 L561.16,821.81 L561.47,822.13 L561.78,822.46 L562.09,822.77 L562.4,823.08 L562.71,823.39 L563.03,823.69 L563.34,823.99 L563.65,824.28 L563.96,824.56 L564.27,824.85 L564.58,825.12 L564.89,825.39" fill="none" stroke="#0000ff" stroke-width="2.9" stroke-linejoin="round"/>
<path d="M584.15,964.41 L584.47,964.24 L584.78,964.06 L585.1,963.88 L585.42,963.69 L585.74,963.5 L586.05,963.31 L586.37,963.11 L586.69,962.91 L587.01,962.71 L587.32,962.5 L587.64,962.28 L587.96,962.06 L588.28,961.83 L588.6,961.6 L588.91,961.37 L589.23,961.13 L589.55,960.88 L589.87,960.63 L590.18,960.37 L590.5,960.11 L590.82,959.84 L591.14,959.56 L591.46,959.28 L591.77,958.99 L592.09,958.69 L592.41,958.38 L592.73,958.07 L593.04,957.75 L593.36,957.42 L593.68,957.09 L594,956.74 L594.31,956.39 L594.63,956.03 L594.95,955.66 L595.27,955.28 L595.59,954.89 L595.9,954.49 L596.22,954.07 L596.54,953.65 L596.86,953.22 L597.17,952.77 L597.49,952.32 L597.81,951.85 L598.13,951.37 L598.45,950.87 L598.76,950.36 L599.08,949.84 L599.4,949.3 L599.72,948.75 L600.03,948.18 L600.35,947.6 L600.67,947 L600.99,946.38 L601.3,945.74 L601.62,945.09 L601.94,944.42 L602.26,943.73 L602.58,943.01 L602.89,942.28 L603.21,941.53 L603.53,940.75 L603.85,939.95 L604.16,939.12 L604.48,938.28 L604.8,937.4 L605.12,936.5 L605.44,935.57 L605.75,934.62 L606.07,933.63 L606.39,932.62 L606.71,931.57 L607.02,930.5 L607.34,929.39 L607.66,928.24 L607.98,927.07 L608.29,925.85 L608.61,924.6 L608.93,923.31 L609.25,921.99 L609.57,920.62 L609.88,919.22 L610.2,917.77 L610.52,916.28 L610.84,914.75 L611.15,913.17 L611.47,911.55 L611.79,909.89 L612.11,908.18 L612.43,906.43 L612.74,904.63 L613.06,902.8 L613.38,900.91 L613.7,898.99 L614.01,897.03 L614.33,895.03 L614.65,892.99 L614.97,890.93 L615.28,888.84 L615.6,886.72 L615.92,884.6 L616.24,882.46 L616.56,880.33 L616.87,878.21 L617.19,876.11 L617.51,874.04 L617.83,872.03 L618.14,870.08 L618.46,868.21 L618.78,866.44 L619.1,864.79 L619.42,863.28 L619.73,861.92 L620.05,860.74 L620.37,859.76 L620.69,858.98 L621,858.43 L621.32,858.11 L621.64,858.02 L621.96,858.18 L622.27,858.57 L622.59,859.19 L622.91,860.04 L623.23,861.1 L623.55,862.35 L623.86,863.78 L624.18,865.36 L624.5,867.08 L624.82,868.93 L625.13,870.87 L625.45,872.89 L625.77,874.98 L626.09,877.12 L626.41,879.29 L626.72,881.49 L627.04,883.69 L627.36,885.9 L627.68,888.09 L627.99,890.27 L628.31,892.43 L628.63,894.56 L628.95,896.65 L629.27,898.71 L629.58,900.74 L629.9,902.72 L630.22,904.65 L630.54,906.54 L630.85,908.39 L631.17,910.19 L631.49,911.95 L631.81,913.65 L632.12,915.32 L632.44,916.93 L632.76,918.5 L633.08,920.03 L633.4,921.51 L633.71,922.95 L634.03,924.35 L634.35,925.71 L634.67,927.02 L634.98,928.3 L635.3,929.54 L635.62,930.74 L635.94,931.9 L636.26,933.03 L636.57,934.13 L636.89,935.19 L637.21,936.22 L637.53,937.22 L637.84,938.19 L638.16,939.13 L638.48,940.04 L638.8,940.93 L639.11,941.78 L639.43,942.62 L639.75,943.42 L640.07,944.2 L640.39,944.96 L640.7,945.7 L641.02,946.42 L641.34,947.11 L641.66,947.79 L641.97,948.44 L642.29,949.08 L642.61,949.69 L642.93,950.29 L643.25,950.87 L643.56,951.44 L643.88,951.99 L644.2,952.52 L644.52,953.04 L644.83,953.55 L645.15,954.04 L645.47,954.51 L645.79,954.98 L646.1,955.43 L646.42,955.87 L646.74,956.29 L647.06,956.71 L647.38,957.11 L647.69,957.51 L648.01,957.89 L648.33,958.26 L648.65,958.63 L648.96,958.98 L649.28,959.32 L649.6,959.66 L649.92,959.99 L650.24,960.3 L650.55,960.62 L650.87,960.92 L651.19,961.21 L651.51,961.5 L651.82,961.78 L652.14,962.05 L652.46,962.32 L652.78,962.58 L653.09,962.84 L653.41,963.08 L653.73,963.33 L654.05,963.56 L654.37,963.79 L654.68,964.02 L655,964.24 L655.32,964.45 L655.64,964.66 L655.95,964.87 L656.27,965.07 L656.59,965.26 L656.91,965.46 L657.23,965.64 L657.54,965.83 L657.86,966 L658.18,966.18 L658.5,966.35 L658.81,966.52 L659.13,966.68 L659.45,966.84 L659.77,967 L660.08,967.15 L660.4,967.3" fill="none" stroke="#0000ff" stroke-width="2.9" stroke-linejoin="round"/>
<line x1="505.2" y1="579.9" x2="535.9" y2="579.9" stroke="#ff0000" stroke-width="2.9"/>
<line x1="505.2" y1="606.9" x2="535.9" y2="606.9" stroke="#0000ff" stroke-width="2.9"/>
<text x="543" y="587.9" style="font-family:'Liberation Serif',serif;font-size:22px" fill="#000">uncooled</text>
<text x="543" y="614.5" style="font-family:'Liberation Serif',serif;font-size:22px" fill="#000">cooled</text>
<g stroke="#262626" stroke-width="1.2">
<line x1="512.8" y1="999.9" x2="512.8" y2="994.9"/>
<line x1="512.8" y1="564.1" x2="512.8" y2="569.1"/>
<line x1="588.3" y1="999.9" x2="588.3" y2="994.9"/>
<line x1="588.3" y1="564.1" x2="588.3" y2="569.1"/>
<line x1="437.3" y1="999.9" x2="442.3" y2="999.9"/>
<line x1="663.8" y1="999.9" x2="658.8" y2="999.9"/>
<line x1="437.3" y1="882.08" x2="442.3" y2="882.08"/>
<line x1="663.8" y1="882.08" x2="658.8" y2="882.08"/>
<line x1="437.3" y1="764.27" x2="442.3" y2="764.27"/>
<line x1="663.8" y1="764.27" x2="658.8" y2="764.27"/>
<line x1="437.3" y1="646.45" x2="442.3" y2="646.45"/>
<line x1="663.8" y1="646.45" x2="658.8" y2="646.45"/>
<line x1="437.3" y1="964.43" x2="440.3" y2="964.43"/>
<line x1="663.8" y1="964.43" x2="660.8" y2="964.43"/>
<line x1="437.3" y1="943.69" x2="440.3" y2="943.69"/>
<line x1="663.8" y1="943.69" x2="660.8" y2="943.69"/>
<line x1="437.3" y1="928.97" x2="440.3" y2="928.97"/>
<line x1="663.8" y1="928.97" x2="660.8" y2="928.97"/>
<line x1="437.3" y1="917.55" x2="440.3" y2="917.55"/>
<line x1="663.8" y1="917.55" x2="660.8" y2="917.55"/>
<line x1="437.3" y1="908.22" x2="440.3" y2="908.22"/>
<line x1="663.8" y1="908.22" x2="660.8" y2="908.22"/>
<line x1="437.3" y1="900.33" x2="440.3" y2="900.33"/>
<line x1="663.8" y1="900.33" x2="660.8" y2="900.33"/>
<line x1="437.3" y1="893.5" x2="440.3" y2="893.5"/>
<line x1="663.8" y1="893.5" x2="660.8" y2="893.5"/>
<line x1="437.3" y1="887.47" x2="440.3" y2="887.47"/>
<line x1="663.8" y1="887.47" x2="660.8" y2="887.47"/>
<line x1="437.3" y1="846.62" x2="440.3" y2="846.62"/>
<line x1="663.8" y1="846.62" x2="660.8" y2="846.62"/>
<line x1="437.3" y1="825.87" x2="440.3" y2="825.87"/>
<line x1="663.8" y1="825.87" x2="660.8" y2="825.87"/>
<line x1="437.3" y1="811.15" x2="440.3" y2="811.15"/>
<line x1="663.8" y1="811.15" x2="660.8" y2="811.15"/>
<line x1="437.3" y1="799.73" x2="440.3" y2="799.73"/>
<line x1="663.8" y1="799.73" x2="660.8" y2="799.73"/>
<line x1="437.3" y1="790.4" x2="440.3" y2="790.4"/>
<line x1="663.8" y1="790.4" x2="660.8" y2="790.4"/>
<line x1="437.3" y1="782.52" x2="440.3" y2="782.52"/>
<line x1="663.8" y1="782.52" x2="660.8" y2="782.52"/>
<line x1="437.3" y1="775.68" x2="440.3" y2="775.68"/>
<line x1="663.8" y1="775.68" x2="660.8" y2="775.68"/>
<line x1="437.3" y1="769.66" x2="440.3" y2="769.66"/>
<line x1="663.8" y1="769.66" x2="660.8" y2="769.66"/>
<line x1="437.3" y1="728.8" x2="440.3" y2="728.8"/>
<line x1="663.8" y1="728.8" x2="660.8" y2="728.8"/>
<line x1="437.3" y1="708.05" x2="440.3" y2="708.05"/>
<line x1="663.8" y1="708.05" x2="660.8" y2="708.05"/>
<line x1="437.3" y1="693.33" x2="440.3" y2="693.33"/>
<line x1="663.8" y1="693.33" x2="660.8" y2="693.33"/>
<line x1="437.3" y1="681.92" x2="440.3" y2="681.92"/>
<line x1="663.8" y1="681.92" x2="660.8" y2="681.92"/>
<line x1="437.3" y1="672.59" x2="440.3" y2="672.59"/>
<line x1="663.8" y1="672.59" x2="660.8" y2="672.59"/>
<line x1="437.3" y1="664.7" x2="440.3" y2="664.7"/>
<line x1="663.8" y1="664.7" x2="660.8" y2="664.7"/>
<line x1="437.3" y1="657.87" x2="440.3" y2="657.87"/>
<line x1="663.8" y1="657.87" x2="660.8" y2="657.87"/>
<line x1="437.3" y1="651.84" x2="440.3" y2="651.84"/>
<line x1="663.8" y1="651.84" x2="660.8" y2="651.84"/>
<line x1="437.3" y1="610.98" x2="440.3" y2="610.98"/>
<line x1="663.8" y1="610.98" x2="660.8" y2="610.98"/>
<line x1="437.3" y1="590.24" x2="440.3" y2="590.24"/>
<line x1="663.8" y1="590.24" x2="660.8" y2="590.24"/>
<line x1="437.3" y1="575.52" x2="440.3" y2="575.52"/>
<line x1="663.8" y1="575.52" x2="660.8" y2="575.52"/>
</g>
<rect x="437.3" y="564.1" width="226.5" height="435.8" fill="none" stroke="#262626" stroke-width="1.8"/>
<text x="437.3" y="1026.6" text-anchor="middle" style="font-family:'Liberation Serif',serif;font-size:25px" fill="#262626">40</text>
<text x="512.8" y="1026.6" text-anchor="middle" style="font-family:'Liberation Serif',serif;font-size:25px" fill="#262626">60</text>
<text x="588.3" y="1026.6" text-anchor="middle" style="font-family:'Liberation Serif',serif;font-size:25px" fill="#262626">80</text>
<text x="663.8" y="1026.6" text-anchor="middle" style="font-family:'Liberation Serif',serif;font-size:25px" fill="#262626">100</text>
<text x="376.31" y="1006.2" style="font-family:'Liberation Serif',serif;font-size:25.2px" fill="#262626">10</text>
<rect x="402.9" y="991.65" width="10.5" height="1.1" fill="#262626"/>
<text x="413.82" y="997.3" style="font-family:'Liberation Serif',serif;font-size:17.5px" fill="#262626">17</text>
<text x="376.31" y="888.38" style="font-family:'Liberation Serif',serif;font-size:25.2px" fill="#262626">10</text>
<rect x="402.9" y="873.83" width="10.5" height="1.1" fill="#262626"/>
<text x="413.82" y="879.48" style="font-family:'Liberation Serif',serif;font-size:17.5px" fill="#262626">16</text>
<text x="376.48" y="770.57" style="font-family:'Liberation Serif',serif;font-size:25.2px" fill="#262626">10</text>
<rect x="403.07" y="756.02" width="10.5" height="1.1" fill="#262626"/>
<text x="414" y="761.67" style="font-family:'Liberation Serif',serif;font-size:17.5px" fill="#262626">15</text>
<text x="376.05" y="652.75" style="font-family:'Liberation Serif',serif;font-size:25.2px" fill="#262626">10</text>
<rect x="402.64" y="638.2" width="10.5" height="1.1" fill="#262626"/>
<text x="413.56" y="643.85" style="font-family:'Liberation Serif',serif;font-size:17.5px" fill="#262626">14</text>
<text x="550.5" y="1058.5" text-anchor="middle" style="font-family:'Liberation Serif',serif;font-size:27px" fill="#000"><tspan font-style="italic">ω</tspan>/2<tspan font-style="italic">π</tspan> (Hz)</text>
<text x="347.5" y="558.3" style="font-family:'Liberation Serif',serif;font-size:31.3px" fill="#000">(d)</text>
<text transform="translate(366.6,778.7) rotate(-90)" text-anchor="middle" style="font-family:'Liberation Serif',serif;font-size:27.4px" fill="#000">S(<tspan font-style="italic">ω</tspan>) (m<tspan dy="-11.5" style="font-size:19.5px">2</tspan><tspan dy="11.5">/Hz)</tspan></text>
</svg>
</body></html>
